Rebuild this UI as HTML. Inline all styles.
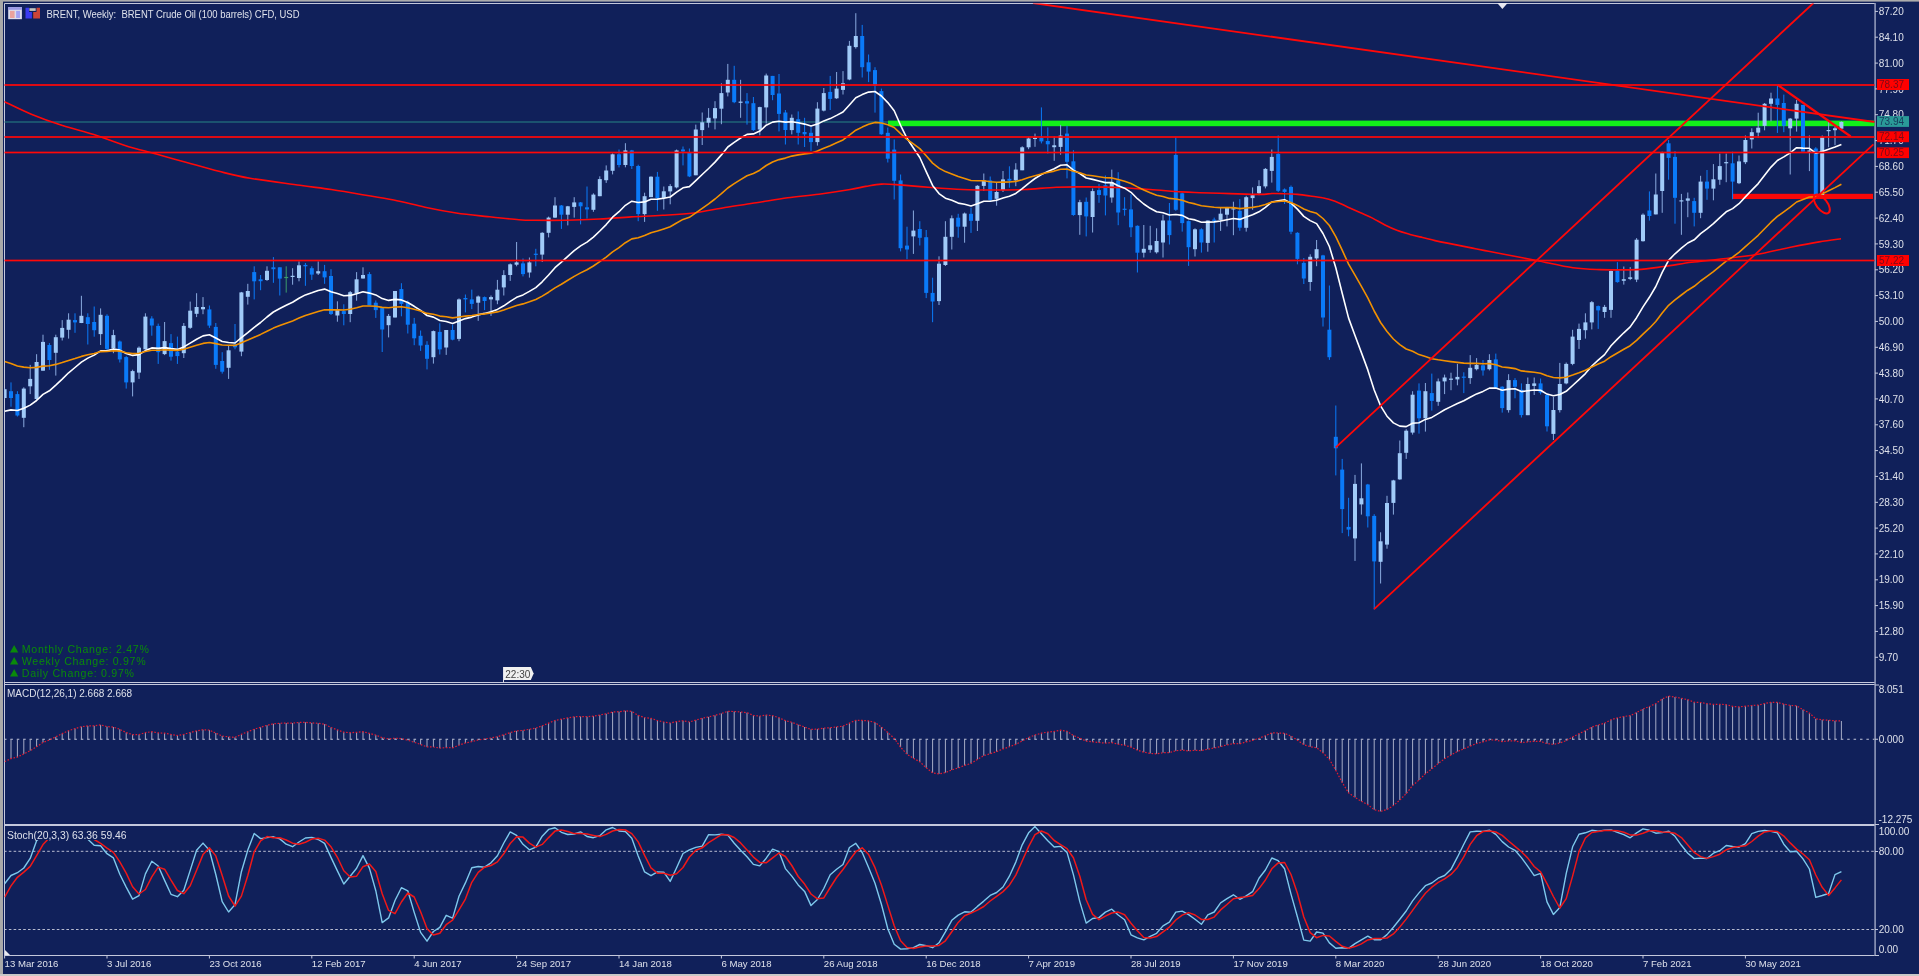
<!DOCTYPE html>
<html><head><meta charset="utf-8"><style>html,body{margin:0;padding:0;background:#10205a;width:1919px;height:976px;overflow:hidden}</style></head>
<body><svg width="1919" height="976" viewBox="0 0 1919 976" style="display:block;will-change:transform">
<rect x="0" y="0" width="1919" height="976" fill="#10205a"/>
<rect x="0" y="0" width="1919" height="1.6" fill="#acacac"/>
<rect x="0" y="0" width="3" height="976" fill="#a8a8a8"/>
<rect x="0" y="974" width="1919" height="2" fill="#c8c8c8"/>
<defs><clipPath id="cm"><rect x="4.5" y="3.5" width="1870" height="678.5"/></clipPath><clipPath id="cd"><rect x="4.5" y="685" width="1870" height="139.5"/></clipPath><clipPath id="cs"><rect x="4.5" y="826" width="1870" height="128.5"/></clipPath></defs>
<g fill="none" stroke="#c4c8dc" stroke-width="1">
<path d="M4.5,955 V3.5 H1875"/>
<path d="M4.5,682.5 H1875 M4.5,684.5 H1875 M4.5,824.5 H1875 M4.5,825.5 H1875 M4.5,955.5 H1875"/>
</g>
<rect x="1874.3" y="3" width="1.6" height="953" fill="#9098b8"/>
<g clip-path="url(#cm)">
<rect x="4" y="121.3" width="1871" height="1.4" fill="#226878"/>
<rect x="888" y="120.6" width="987" height="5.6" fill="#12f01a"/>
<rect x="1733" y="193.8" width="140" height="5.2" fill="#f80808"/>
<rect x="4.1" y="388.2" width="1" height="10.7" fill="#8aaade"/><rect x="2.6" y="389.2" width="4" height="8.8" fill="#a0caf8"/><rect x="10.5" y="382.4" width="1" height="24.3" fill="#0a7af8"/><rect x="9.0" y="391.2" width="4" height="6.8" fill="#0a7af8"/><rect x="16.9" y="391.2" width="1" height="25.3" fill="#0a7af8"/><rect x="15.4" y="394.1" width="4" height="21.4" fill="#0a7af8"/><rect x="23.3" y="387.3" width="1" height="39.9" fill="#8aaade"/><rect x="21.8" y="388.6" width="4" height="29.2" fill="#a0caf8"/><rect x="29.7" y="364.9" width="1" height="29.2" fill="#8aaade"/><rect x="28.2" y="378.9" width="4" height="7.4" fill="#a0caf8"/><rect x="36.1" y="354.2" width="1" height="45.8" fill="#8aaade"/><rect x="34.6" y="362.0" width="4" height="37.0" fill="#a0caf8"/><rect x="42.5" y="334.7" width="1" height="36.0" fill="#8aaade"/><rect x="41.0" y="341.9" width="4" height="28.8" fill="#a0caf8"/><rect x="48.9" y="343.1" width="1" height="26.7" fill="#0a7af8"/><rect x="47.4" y="345.0" width="4" height="15.0" fill="#0a7af8"/><rect x="55.3" y="334.7" width="1" height="40.9" fill="#8aaade"/><rect x="53.8" y="337.2" width="4" height="15.6" fill="#a0caf8"/><rect x="61.7" y="320.1" width="1" height="20.4" fill="#8aaade"/><rect x="60.2" y="327.9" width="4" height="9.7" fill="#a0caf8"/><rect x="68.1" y="313.3" width="1" height="25.3" fill="#8aaade"/><rect x="66.6" y="319.7" width="4" height="10.1" fill="#a0caf8"/><rect x="74.5" y="313.3" width="1" height="19.5" fill="#0a7af8"/><rect x="73.0" y="320.1" width="4" height="2.3" fill="#0a7af8"/><rect x="80.9" y="295.8" width="1" height="27.3" fill="#8aaade"/><rect x="79.4" y="315.8" width="4" height="7.2" fill="#a0caf8"/><rect x="87.3" y="313.3" width="1" height="31.2" fill="#0a7af8"/><rect x="85.8" y="317.2" width="4" height="6.8" fill="#0a7af8"/><rect x="93.7" y="306.5" width="1" height="30.2" fill="#0a7af8"/><rect x="92.2" y="322.0" width="4" height="8.2" fill="#0a7af8"/><rect x="100.1" y="308.4" width="1" height="36.6" fill="#8aaade"/><rect x="98.6" y="314.8" width="4" height="19.3" fill="#a0caf8"/><rect x="106.5" y="314.3" width="1" height="36.0" fill="#0a7af8"/><rect x="105.0" y="315.8" width="4" height="33.1" fill="#0a7af8"/><rect x="112.9" y="329.8" width="1" height="23.4" fill="#8aaade"/><rect x="111.4" y="335.1" width="4" height="13.2" fill="#a0caf8"/><rect x="119.3" y="340.5" width="1" height="22.0" fill="#0a7af8"/><rect x="117.8" y="341.5" width="4" height="17.9" fill="#0a7af8"/><rect x="125.7" y="356.1" width="1" height="32.5" fill="#0a7af8"/><rect x="124.2" y="357.1" width="4" height="25.3" fill="#0a7af8"/><rect x="132.1" y="369.7" width="1" height="26.7" fill="#8aaade"/><rect x="130.6" y="371.1" width="4" height="11.3" fill="#a0caf8"/><rect x="138.5" y="346.4" width="1" height="32.5" fill="#8aaade"/><rect x="137.0" y="347.7" width="4" height="24.9" fill="#a0caf8"/><rect x="144.9" y="313.3" width="1" height="36.0" fill="#8aaade"/><rect x="143.4" y="316.6" width="4" height="32.7" fill="#a0caf8"/><rect x="151.3" y="316.2" width="1" height="19.5" fill="#0a7af8"/><rect x="149.8" y="318.5" width="4" height="7.0" fill="#0a7af8"/><rect x="157.7" y="323.6" width="1" height="40.3" fill="#0a7af8"/><rect x="156.2" y="325.9" width="4" height="26.3" fill="#0a7af8"/><rect x="164.1" y="322.0" width="1" height="33.1" fill="#8aaade"/><rect x="162.6" y="341.1" width="4" height="13.0" fill="#a0caf8"/><rect x="170.5" y="334.1" width="1" height="26.5" fill="#0a7af8"/><rect x="169.0" y="343.1" width="4" height="13.6" fill="#0a7af8"/><rect x="176.9" y="336.6" width="1" height="27.3" fill="#0a7af8"/><rect x="175.4" y="351.6" width="4" height="4.5" fill="#0a7af8"/><rect x="183.3" y="323.0" width="1" height="35.0" fill="#8aaade"/><rect x="181.8" y="325.9" width="4" height="27.3" fill="#a0caf8"/><rect x="189.7" y="301.6" width="1" height="27.3" fill="#8aaade"/><rect x="188.2" y="310.7" width="4" height="17.1" fill="#a0caf8"/><rect x="196.1" y="293.2" width="1" height="23.9" fill="#8aaade"/><rect x="194.6" y="307.0" width="4" height="6.8" fill="#a0caf8"/><rect x="202.5" y="297.1" width="1" height="17.1" fill="#8aaade"/><rect x="201.0" y="307.0" width="4" height="2.3" fill="#a0caf8"/><rect x="208.9" y="305.5" width="1" height="22.4" fill="#0a7af8"/><rect x="207.4" y="309.4" width="4" height="16.2" fill="#0a7af8"/><rect x="215.3" y="323.0" width="1" height="45.8" fill="#0a7af8"/><rect x="213.8" y="326.9" width="4" height="38.0" fill="#0a7af8"/><rect x="221.7" y="352.2" width="1" height="21.4" fill="#0a7af8"/><rect x="220.2" y="361.0" width="4" height="10.7" fill="#0a7af8"/><rect x="228.1" y="345.4" width="1" height="33.5" fill="#8aaade"/><rect x="226.6" y="350.3" width="4" height="17.5" fill="#a0caf8"/><rect x="234.5" y="324.0" width="1" height="25.3" fill="#0a7af8"/><rect x="233.0" y="344.4" width="4" height="2.9" fill="#0a7af8"/><rect x="240.9" y="291.9" width="1" height="64.3" fill="#8aaade"/><rect x="239.4" y="292.4" width="4" height="59.2" fill="#a0caf8"/><rect x="247.3" y="283.8" width="1" height="20.8" fill="#8aaade"/><rect x="245.8" y="291.0" width="4" height="5.8" fill="#a0caf8"/><rect x="253.7" y="266.3" width="1" height="33.1" fill="#0a7af8"/><rect x="252.2" y="272.1" width="4" height="9.2" fill="#0a7af8"/><rect x="260.1" y="275.0" width="1" height="15.2" fill="#0a7af8"/><rect x="258.6" y="279.3" width="4" height="1.9" fill="#0a7af8"/><rect x="266.5" y="266.3" width="1" height="14.6" fill="#8aaade"/><rect x="265.0" y="270.8" width="4" height="9.2" fill="#a0caf8"/><rect x="272.9" y="257.1" width="1" height="25.7" fill="#0a7af8"/><rect x="271.4" y="267.3" width="4" height="1.9" fill="#0a7af8"/><rect x="279.3" y="267.3" width="1" height="28.2" fill="#0a7af8"/><rect x="277.8" y="267.3" width="4" height="11.3" fill="#0a7af8"/><rect x="285.7" y="266.3" width="1" height="26.3" fill="#3c9c6c"/><rect x="284.2" y="276.9" width="4" height="1.2" fill="#3c9c6c"/><rect x="292.1" y="268.2" width="1" height="16.5" fill="#8aaade"/><rect x="290.6" y="275.8" width="4" height="1.2" fill="#a0caf8"/><rect x="298.5" y="261.4" width="1" height="19.9" fill="#8aaade"/><rect x="297.0" y="265.3" width="4" height="12.7" fill="#a0caf8"/><rect x="304.9" y="263.0" width="1" height="22.8" fill="#0a7af8"/><rect x="303.4" y="264.9" width="4" height="1.4" fill="#0a7af8"/><rect x="311.3" y="266.3" width="1" height="13.6" fill="#0a7af8"/><rect x="309.8" y="268.2" width="4" height="6.4" fill="#0a7af8"/><rect x="317.7" y="261.4" width="1" height="13.6" fill="#8aaade"/><rect x="316.2" y="271.2" width="4" height="2.3" fill="#a0caf8"/><rect x="324.1" y="264.9" width="1" height="18.9" fill="#0a7af8"/><rect x="322.6" y="271.2" width="4" height="6.2" fill="#0a7af8"/><rect x="330.5" y="269.2" width="1" height="45.8" fill="#0a7af8"/><rect x="329.0" y="276.0" width="4" height="38.0" fill="#0a7af8"/><rect x="336.9" y="301.3" width="1" height="20.4" fill="#8aaade"/><rect x="335.4" y="309.1" width="4" height="6.4" fill="#a0caf8"/><rect x="343.3" y="304.3" width="1" height="21.0" fill="#0a7af8"/><rect x="341.8" y="311.1" width="4" height="2.9" fill="#0a7af8"/><rect x="349.7" y="291.0" width="1" height="31.2" fill="#8aaade"/><rect x="348.2" y="292.2" width="4" height="21.8" fill="#a0caf8"/><rect x="356.1" y="272.1" width="1" height="28.6" fill="#8aaade"/><rect x="354.6" y="279.3" width="4" height="14.2" fill="#a0caf8"/><rect x="362.5" y="267.3" width="1" height="11.3" fill="#8aaade"/><rect x="361.0" y="275.0" width="4" height="3.5" fill="#a0caf8"/><rect x="368.9" y="272.1" width="1" height="33.1" fill="#0a7af8"/><rect x="367.4" y="274.1" width="4" height="31.2" fill="#0a7af8"/><rect x="375.3" y="300.4" width="1" height="17.5" fill="#0a7af8"/><rect x="373.8" y="302.7" width="4" height="7.4" fill="#0a7af8"/><rect x="381.7" y="307.2" width="1" height="44.8" fill="#0a7af8"/><rect x="380.2" y="308.1" width="4" height="21.4" fill="#0a7af8"/><rect x="388.1" y="314.0" width="1" height="23.4" fill="#8aaade"/><rect x="386.6" y="315.9" width="4" height="9.3" fill="#a0caf8"/><rect x="394.5" y="291.0" width="1" height="26.5" fill="#8aaade"/><rect x="393.0" y="291.0" width="4" height="26.5" fill="#a0caf8"/><rect x="400.9" y="283.2" width="1" height="33.1" fill="#0a7af8"/><rect x="399.4" y="289.1" width="4" height="14.8" fill="#0a7af8"/><rect x="407.3" y="300.4" width="1" height="33.1" fill="#0a7af8"/><rect x="405.8" y="302.7" width="4" height="22.0" fill="#0a7af8"/><rect x="413.7" y="317.9" width="1" height="27.3" fill="#0a7af8"/><rect x="412.2" y="323.7" width="4" height="14.6" fill="#0a7af8"/><rect x="420.1" y="330.5" width="1" height="20.4" fill="#0a7af8"/><rect x="418.6" y="335.8" width="4" height="9.7" fill="#0a7af8"/><rect x="426.5" y="341.2" width="1" height="28.2" fill="#0a7af8"/><rect x="425.0" y="344.8" width="4" height="14.0" fill="#0a7af8"/><rect x="432.9" y="330.5" width="1" height="33.1" fill="#8aaade"/><rect x="431.4" y="331.1" width="4" height="26.1" fill="#a0caf8"/><rect x="439.3" y="323.3" width="1" height="31.2" fill="#0a7af8"/><rect x="437.8" y="331.9" width="4" height="17.5" fill="#0a7af8"/><rect x="445.7" y="330.0" width="1" height="24.9" fill="#8aaade"/><rect x="444.2" y="330.0" width="4" height="17.5" fill="#a0caf8"/><rect x="452.1" y="324.7" width="1" height="15.6" fill="#0a7af8"/><rect x="450.6" y="330.0" width="4" height="9.7" fill="#0a7af8"/><rect x="458.5" y="298.4" width="1" height="42.8" fill="#8aaade"/><rect x="457.0" y="299.4" width="4" height="39.5" fill="#a0caf8"/><rect x="464.9" y="294.5" width="1" height="17.9" fill="#0a7af8"/><rect x="463.4" y="298.0" width="4" height="1.4" fill="#0a7af8"/><rect x="471.3" y="289.6" width="1" height="19.5" fill="#0a7af8"/><rect x="469.8" y="299.4" width="4" height="4.5" fill="#0a7af8"/><rect x="477.7" y="295.5" width="1" height="25.3" fill="#8aaade"/><rect x="476.2" y="296.5" width="4" height="6.2" fill="#a0caf8"/><rect x="484.1" y="296.5" width="1" height="13.6" fill="#0a7af8"/><rect x="482.6" y="297.1" width="4" height="3.9" fill="#0a7af8"/><rect x="490.5" y="295.5" width="1" height="20.4" fill="#8aaade"/><rect x="489.0" y="297.1" width="4" height="2.3" fill="#a0caf8"/><rect x="496.9" y="279.9" width="1" height="24.3" fill="#8aaade"/><rect x="495.4" y="289.7" width="4" height="10.7" fill="#a0caf8"/><rect x="503.3" y="270.2" width="1" height="25.3" fill="#8aaade"/><rect x="501.8" y="275.1" width="4" height="12.3" fill="#a0caf8"/><rect x="509.7" y="263.4" width="1" height="17.5" fill="#8aaade"/><rect x="508.2" y="264.3" width="4" height="10.7" fill="#a0caf8"/><rect x="516.1" y="242.0" width="1" height="24.3" fill="#8aaade"/><rect x="514.6" y="262.4" width="4" height="2.3" fill="#a0caf8"/><rect x="522.5" y="258.5" width="1" height="17.9" fill="#0a7af8"/><rect x="521.0" y="263.4" width="4" height="10.7" fill="#0a7af8"/><rect x="528.9" y="257.5" width="1" height="20.1" fill="#8aaade"/><rect x="527.4" y="262.4" width="4" height="10.1" fill="#a0caf8"/><rect x="535.3" y="248.8" width="1" height="17.5" fill="#0a7af8"/><rect x="533.8" y="253.7" width="4" height="1.2" fill="#0a7af8"/><rect x="541.7" y="232.2" width="1" height="29.8" fill="#8aaade"/><rect x="540.2" y="232.8" width="4" height="21.8" fill="#a0caf8"/><rect x="548.1" y="216.6" width="1" height="20.8" fill="#8aaade"/><rect x="546.6" y="217.6" width="4" height="15.2" fill="#a0caf8"/><rect x="554.5" y="197.2" width="1" height="20.8" fill="#8aaade"/><rect x="553.0" y="205.5" width="4" height="12.1" fill="#a0caf8"/><rect x="560.9" y="205.0" width="1" height="23.9" fill="#0a7af8"/><rect x="559.4" y="205.5" width="4" height="9.2" fill="#0a7af8"/><rect x="567.3" y="205.9" width="1" height="19.5" fill="#8aaade"/><rect x="565.8" y="206.3" width="4" height="8.4" fill="#a0caf8"/><rect x="573.7" y="197.2" width="1" height="20.4" fill="#8aaade"/><rect x="572.2" y="202.4" width="4" height="4.5" fill="#a0caf8"/><rect x="580.1" y="202.0" width="1" height="22.4" fill="#0a7af8"/><rect x="578.6" y="202.4" width="4" height="3.9" fill="#0a7af8"/><rect x="586.5" y="186.5" width="1" height="32.1" fill="#0a7af8"/><rect x="585.0" y="207.3" width="4" height="2.1" fill="#0a7af8"/><rect x="592.9" y="193.3" width="1" height="18.5" fill="#8aaade"/><rect x="591.4" y="194.6" width="4" height="15.2" fill="#a0caf8"/><rect x="599.3" y="176.3" width="1" height="19.9" fill="#8aaade"/><rect x="597.8" y="179.1" width="4" height="17.1" fill="#a0caf8"/><rect x="605.7" y="165.4" width="1" height="17.5" fill="#8aaade"/><rect x="604.2" y="170.5" width="4" height="9.7" fill="#a0caf8"/><rect x="612.1" y="153.4" width="1" height="21.0" fill="#8aaade"/><rect x="610.6" y="154.3" width="4" height="16.5" fill="#a0caf8"/><rect x="618.5" y="149.5" width="1" height="17.9" fill="#0a7af8"/><rect x="617.0" y="154.3" width="4" height="10.7" fill="#0a7af8"/><rect x="624.9" y="143.2" width="1" height="24.1" fill="#8aaade"/><rect x="623.4" y="150.4" width="4" height="14.6" fill="#a0caf8"/><rect x="631.3" y="149.9" width="1" height="19.1" fill="#0a7af8"/><rect x="629.8" y="150.4" width="4" height="15.6" fill="#0a7af8"/><rect x="637.7" y="164.7" width="1" height="56.5" fill="#0a7af8"/><rect x="636.2" y="166.0" width="4" height="48.1" fill="#0a7af8"/><rect x="644.1" y="192.7" width="1" height="29.2" fill="#8aaade"/><rect x="642.6" y="196.2" width="4" height="17.9" fill="#a0caf8"/><rect x="650.5" y="176.3" width="1" height="20.8" fill="#8aaade"/><rect x="649.0" y="176.7" width="4" height="20.4" fill="#a0caf8"/><rect x="656.9" y="171.9" width="1" height="38.9" fill="#0a7af8"/><rect x="655.4" y="176.7" width="4" height="21.4" fill="#0a7af8"/><rect x="663.3" y="186.5" width="1" height="23.0" fill="#8aaade"/><rect x="661.8" y="191.3" width="4" height="6.8" fill="#a0caf8"/><rect x="669.7" y="184.1" width="1" height="20.2" fill="#8aaade"/><rect x="668.2" y="186.1" width="4" height="5.3" fill="#a0caf8"/><rect x="676.1" y="149.5" width="1" height="38.9" fill="#8aaade"/><rect x="674.6" y="150.4" width="4" height="37.0" fill="#a0caf8"/><rect x="682.5" y="146.5" width="1" height="18.9" fill="#0a7af8"/><rect x="681.0" y="149.5" width="4" height="1.9" fill="#0a7af8"/><rect x="688.9" y="148.5" width="1" height="28.6" fill="#0a7af8"/><rect x="687.4" y="153.0" width="4" height="23.4" fill="#0a7af8"/><rect x="695.3" y="124.6" width="1" height="50.6" fill="#8aaade"/><rect x="693.8" y="129.5" width="4" height="45.8" fill="#a0caf8"/><rect x="701.7" y="112.5" width="1" height="32.5" fill="#8aaade"/><rect x="700.2" y="122.3" width="4" height="7.8" fill="#a0caf8"/><rect x="708.1" y="108.1" width="1" height="19.5" fill="#8aaade"/><rect x="706.6" y="117.8" width="4" height="4.9" fill="#a0caf8"/><rect x="714.5" y="101.2" width="1" height="28.2" fill="#8aaade"/><rect x="713.0" y="108.1" width="4" height="10.3" fill="#a0caf8"/><rect x="720.9" y="83.3" width="1" height="40.9" fill="#8aaade"/><rect x="719.4" y="93.1" width="4" height="15.6" fill="#a0caf8"/><rect x="727.3" y="63.9" width="1" height="32.5" fill="#8aaade"/><rect x="725.8" y="79.8" width="4" height="12.7" fill="#a0caf8"/><rect x="733.7" y="65.8" width="1" height="37.4" fill="#0a7af8"/><rect x="732.2" y="79.8" width="4" height="22.4" fill="#0a7af8"/><rect x="740.1" y="79.8" width="1" height="38.0" fill="#8aaade"/><rect x="738.6" y="101.6" width="4" height="1.2" fill="#a0caf8"/><rect x="746.5" y="93.1" width="1" height="31.5" fill="#0a7af8"/><rect x="745.0" y="101.2" width="4" height="2.3" fill="#0a7af8"/><rect x="752.9" y="97.0" width="1" height="33.9" fill="#0a7af8"/><rect x="751.4" y="103.2" width="4" height="26.9" fill="#0a7af8"/><rect x="759.3" y="106.7" width="1" height="28.6" fill="#8aaade"/><rect x="757.8" y="107.1" width="4" height="22.4" fill="#a0caf8"/><rect x="765.7" y="73.6" width="1" height="50.0" fill="#8aaade"/><rect x="764.2" y="75.5" width="4" height="31.9" fill="#a0caf8"/><rect x="772.1" y="75.9" width="1" height="24.3" fill="#0a7af8"/><rect x="770.6" y="75.9" width="4" height="19.1" fill="#0a7af8"/><rect x="778.5" y="74.0" width="1" height="57.4" fill="#0a7af8"/><rect x="777.0" y="93.5" width="4" height="20.4" fill="#0a7af8"/><rect x="784.9" y="110.0" width="1" height="34.5" fill="#0a7af8"/><rect x="783.4" y="112.5" width="4" height="17.5" fill="#0a7af8"/><rect x="791.3" y="114.5" width="1" height="19.9" fill="#8aaade"/><rect x="789.8" y="117.8" width="4" height="12.3" fill="#a0caf8"/><rect x="797.7" y="111.4" width="1" height="33.1" fill="#0a7af8"/><rect x="796.2" y="119.2" width="4" height="13.6" fill="#0a7af8"/><rect x="804.1" y="117.8" width="1" height="29.2" fill="#0a7af8"/><rect x="802.6" y="132.0" width="4" height="2.3" fill="#0a7af8"/><rect x="810.5" y="126.6" width="1" height="24.3" fill="#0a7af8"/><rect x="809.0" y="132.8" width="4" height="9.3" fill="#0a7af8"/><rect x="816.9" y="102.2" width="1" height="43.4" fill="#8aaade"/><rect x="815.4" y="108.6" width="4" height="33.5" fill="#a0caf8"/><rect x="823.3" y="88.0" width="1" height="23.4" fill="#8aaade"/><rect x="821.8" y="93.1" width="4" height="17.5" fill="#a0caf8"/><rect x="829.7" y="75.9" width="1" height="34.1" fill="#0a7af8"/><rect x="828.2" y="91.9" width="4" height="7.0" fill="#0a7af8"/><rect x="836.1" y="72.0" width="1" height="26.9" fill="#8aaade"/><rect x="834.6" y="88.6" width="4" height="9.7" fill="#a0caf8"/><rect x="842.5" y="71.1" width="1" height="23.4" fill="#8aaade"/><rect x="841.0" y="83.3" width="4" height="6.6" fill="#a0caf8"/><rect x="848.9" y="40.9" width="1" height="39.3" fill="#8aaade"/><rect x="847.4" y="45.8" width="4" height="33.7" fill="#a0caf8"/><rect x="855.3" y="13.2" width="1" height="35.4" fill="#8aaade"/><rect x="853.8" y="36.0" width="4" height="11.1" fill="#a0caf8"/><rect x="861.7" y="24.9" width="1" height="52.6" fill="#0a7af8"/><rect x="860.2" y="36.0" width="4" height="31.2" fill="#0a7af8"/><rect x="868.1" y="54.5" width="1" height="27.6" fill="#0a7af8"/><rect x="866.6" y="62.3" width="4" height="9.3" fill="#0a7af8"/><rect x="874.5" y="67.2" width="1" height="45.4" fill="#0a7af8"/><rect x="873.0" y="70.1" width="4" height="15.6" fill="#0a7af8"/><rect x="880.9" y="88.6" width="1" height="46.1" fill="#0a7af8"/><rect x="879.4" y="91.1" width="4" height="43.2" fill="#0a7af8"/><rect x="887.3" y="127.5" width="1" height="35.0" fill="#0a7af8"/><rect x="885.8" y="132.8" width="4" height="25.9" fill="#0a7af8"/><rect x="893.7" y="139.5" width="1" height="60.0" fill="#0a7af8"/><rect x="892.2" y="149.6" width="4" height="31.2" fill="#0a7af8"/><rect x="900.1" y="174.5" width="1" height="76.9" fill="#0a7af8"/><rect x="898.6" y="180.4" width="4" height="67.8" fill="#0a7af8"/><rect x="906.5" y="226.7" width="1" height="32.5" fill="#0a7af8"/><rect x="905.0" y="245.6" width="4" height="3.9" fill="#0a7af8"/><rect x="912.9" y="210.5" width="1" height="43.4" fill="#8aaade"/><rect x="911.4" y="230.6" width="4" height="5.8" fill="#a0caf8"/><rect x="919.3" y="221.2" width="1" height="24.3" fill="#0a7af8"/><rect x="917.8" y="229.0" width="4" height="8.8" fill="#0a7af8"/><rect x="925.7" y="230.0" width="1" height="68.1" fill="#0a7af8"/><rect x="924.2" y="237.2" width="4" height="55.7" fill="#0a7af8"/><rect x="932.1" y="277.7" width="1" height="44.5" fill="#0a7af8"/><rect x="930.6" y="292.9" width="4" height="8.6" fill="#0a7af8"/><rect x="938.5" y="256.3" width="1" height="48.7" fill="#8aaade"/><rect x="937.0" y="263.7" width="4" height="37.4" fill="#a0caf8"/><rect x="944.9" y="221.2" width="1" height="44.8" fill="#8aaade"/><rect x="943.4" y="236.8" width="4" height="28.2" fill="#a0caf8"/><rect x="951.3" y="215.4" width="1" height="34.1" fill="#8aaade"/><rect x="949.8" y="218.3" width="4" height="18.5" fill="#a0caf8"/><rect x="957.7" y="213.8" width="1" height="23.9" fill="#0a7af8"/><rect x="956.2" y="217.7" width="4" height="9.0" fill="#0a7af8"/><rect x="964.1" y="212.5" width="1" height="30.2" fill="#8aaade"/><rect x="962.6" y="213.5" width="4" height="13.2" fill="#a0caf8"/><rect x="970.5" y="207.6" width="1" height="25.3" fill="#0a7af8"/><rect x="969.0" y="213.8" width="4" height="7.0" fill="#0a7af8"/><rect x="976.9" y="185.2" width="1" height="45.8" fill="#8aaade"/><rect x="975.4" y="185.8" width="4" height="35.0" fill="#a0caf8"/><rect x="983.3" y="173.5" width="1" height="17.5" fill="#8aaade"/><rect x="981.8" y="180.4" width="4" height="5.5" fill="#a0caf8"/><rect x="989.7" y="176.5" width="1" height="25.3" fill="#0a7af8"/><rect x="988.2" y="180.4" width="4" height="19.5" fill="#0a7af8"/><rect x="996.1" y="182.3" width="1" height="23.4" fill="#8aaade"/><rect x="994.6" y="192.0" width="4" height="6.8" fill="#a0caf8"/><rect x="1002.5" y="171.0" width="1" height="21.0" fill="#8aaade"/><rect x="1001.0" y="179.4" width="4" height="10.7" fill="#a0caf8"/><rect x="1008.9" y="166.3" width="1" height="21.4" fill="#0a7af8"/><rect x="1007.4" y="178.8" width="4" height="1.9" fill="#0a7af8"/><rect x="1015.3" y="163.2" width="1" height="23.0" fill="#8aaade"/><rect x="1013.8" y="169.6" width="4" height="10.7" fill="#a0caf8"/><rect x="1021.7" y="146.3" width="1" height="23.9" fill="#8aaade"/><rect x="1020.2" y="147.3" width="4" height="23.0" fill="#a0caf8"/><rect x="1028.1" y="137.1" width="1" height="12.1" fill="#8aaade"/><rect x="1026.6" y="138.5" width="4" height="8.8" fill="#a0caf8"/><rect x="1034.5" y="133.6" width="1" height="13.2" fill="#8aaade"/><rect x="1033.0" y="137.8" width="4" height="1.2" fill="#a0caf8"/><rect x="1040.9" y="107.4" width="1" height="36.0" fill="#0a7af8"/><rect x="1039.4" y="137.9" width="4" height="3.5" fill="#0a7af8"/><rect x="1047.3" y="127.4" width="1" height="26.1" fill="#0a7af8"/><rect x="1045.8" y="141.0" width="4" height="3.3" fill="#0a7af8"/><rect x="1053.7" y="136.5" width="1" height="24.3" fill="#8aaade"/><rect x="1052.2" y="145.3" width="4" height="1.9" fill="#a0caf8"/><rect x="1060.1" y="124.9" width="1" height="29.8" fill="#8aaade"/><rect x="1058.6" y="135.6" width="4" height="11.3" fill="#a0caf8"/><rect x="1066.5" y="125.8" width="1" height="52.6" fill="#0a7af8"/><rect x="1065.0" y="133.6" width="4" height="28.2" fill="#0a7af8"/><rect x="1072.9" y="150.2" width="1" height="65.6" fill="#0a7af8"/><rect x="1071.4" y="161.3" width="4" height="53.7" fill="#0a7af8"/><rect x="1079.3" y="199.8" width="1" height="35.0" fill="#8aaade"/><rect x="1077.8" y="202.2" width="4" height="12.9" fill="#a0caf8"/><rect x="1085.7" y="197.5" width="1" height="38.9" fill="#0a7af8"/><rect x="1084.2" y="201.8" width="4" height="14.6" fill="#0a7af8"/><rect x="1092.1" y="188.5" width="1" height="44.0" fill="#8aaade"/><rect x="1090.6" y="191.1" width="4" height="25.9" fill="#a0caf8"/><rect x="1098.5" y="183.9" width="1" height="18.9" fill="#0a7af8"/><rect x="1097.0" y="190.1" width="4" height="4.9" fill="#0a7af8"/><rect x="1104.9" y="175.5" width="1" height="39.9" fill="#0a7af8"/><rect x="1103.4" y="185.2" width="4" height="10.3" fill="#0a7af8"/><rect x="1111.3" y="169.6" width="1" height="33.1" fill="#8aaade"/><rect x="1109.8" y="182.3" width="4" height="15.2" fill="#a0caf8"/><rect x="1117.7" y="172.2" width="1" height="53.0" fill="#0a7af8"/><rect x="1116.2" y="180.4" width="4" height="32.1" fill="#0a7af8"/><rect x="1124.1" y="197.2" width="1" height="18.5" fill="#0a7af8"/><rect x="1122.6" y="208.7" width="4" height="1.2" fill="#0a7af8"/><rect x="1130.5" y="194.3" width="1" height="42.8" fill="#0a7af8"/><rect x="1129.0" y="209.4" width="4" height="17.9" fill="#0a7af8"/><rect x="1136.9" y="225.4" width="1" height="47.1" fill="#0a7af8"/><rect x="1135.4" y="225.8" width="4" height="26.9" fill="#0a7af8"/><rect x="1143.3" y="225.0" width="1" height="32.5" fill="#8aaade"/><rect x="1141.8" y="248.8" width="4" height="3.9" fill="#a0caf8"/><rect x="1149.7" y="225.8" width="1" height="26.9" fill="#8aaade"/><rect x="1148.2" y="245.3" width="4" height="4.5" fill="#a0caf8"/><rect x="1156.1" y="228.3" width="1" height="25.3" fill="#8aaade"/><rect x="1154.6" y="241.0" width="4" height="11.3" fill="#a0caf8"/><rect x="1162.5" y="214.7" width="1" height="42.8" fill="#8aaade"/><rect x="1161.0" y="220.5" width="4" height="22.0" fill="#a0caf8"/><rect x="1168.9" y="203.0" width="1" height="41.5" fill="#0a7af8"/><rect x="1167.4" y="220.5" width="4" height="14.6" fill="#0a7af8"/><rect x="1175.3" y="137.4" width="1" height="73.4" fill="#0a7af8"/><rect x="1173.8" y="154.9" width="4" height="54.9" fill="#0a7af8"/><rect x="1181.7" y="192.7" width="1" height="38.9" fill="#0a7af8"/><rect x="1180.2" y="193.3" width="4" height="29.8" fill="#0a7af8"/><rect x="1188.1" y="220.5" width="1" height="45.4" fill="#0a7af8"/><rect x="1186.6" y="221.1" width="4" height="26.1" fill="#0a7af8"/><rect x="1194.5" y="228.3" width="1" height="28.2" fill="#8aaade"/><rect x="1193.0" y="229.3" width="4" height="19.9" fill="#a0caf8"/><rect x="1200.9" y="228.3" width="1" height="24.3" fill="#0a7af8"/><rect x="1199.4" y="229.3" width="4" height="13.2" fill="#0a7af8"/><rect x="1207.3" y="220.5" width="1" height="31.2" fill="#8aaade"/><rect x="1205.8" y="220.5" width="4" height="22.4" fill="#a0caf8"/><rect x="1213.7" y="217.6" width="1" height="24.9" fill="#0a7af8"/><rect x="1212.2" y="219.6" width="4" height="1.2" fill="#0a7af8"/><rect x="1220.1" y="207.9" width="1" height="23.0" fill="#8aaade"/><rect x="1218.6" y="213.7" width="4" height="6.2" fill="#a0caf8"/><rect x="1226.5" y="206.9" width="1" height="19.5" fill="#8aaade"/><rect x="1225.0" y="207.9" width="4" height="6.8" fill="#a0caf8"/><rect x="1232.9" y="201.7" width="1" height="33.5" fill="#8aaade"/><rect x="1231.4" y="208.3" width="4" height="1.2" fill="#a0caf8"/><rect x="1239.3" y="199.1" width="1" height="31.7" fill="#0a7af8"/><rect x="1237.8" y="210.8" width="4" height="16.9" fill="#0a7af8"/><rect x="1245.7" y="195.8" width="1" height="35.8" fill="#8aaade"/><rect x="1244.2" y="197.2" width="4" height="30.6" fill="#a0caf8"/><rect x="1252.1" y="187.4" width="1" height="22.4" fill="#8aaade"/><rect x="1250.6" y="195.2" width="4" height="2.9" fill="#a0caf8"/><rect x="1258.5" y="180.2" width="1" height="15.0" fill="#8aaade"/><rect x="1257.0" y="186.1" width="4" height="7.2" fill="#a0caf8"/><rect x="1264.9" y="168.0" width="1" height="20.4" fill="#8aaade"/><rect x="1263.4" y="168.9" width="4" height="17.5" fill="#a0caf8"/><rect x="1271.3" y="149.5" width="1" height="33.1" fill="#8aaade"/><rect x="1269.8" y="156.9" width="4" height="14.0" fill="#a0caf8"/><rect x="1277.7" y="135.5" width="1" height="56.5" fill="#0a7af8"/><rect x="1276.2" y="153.8" width="4" height="37.0" fill="#0a7af8"/><rect x="1284.1" y="188.4" width="1" height="15.6" fill="#0a7af8"/><rect x="1282.6" y="189.4" width="4" height="2.5" fill="#0a7af8"/><rect x="1290.5" y="185.5" width="1" height="48.7" fill="#0a7af8"/><rect x="1289.0" y="186.9" width="4" height="44.8" fill="#0a7af8"/><rect x="1296.9" y="232.2" width="1" height="32.1" fill="#0a7af8"/><rect x="1295.4" y="232.8" width="4" height="26.1" fill="#0a7af8"/><rect x="1303.3" y="258.0" width="1" height="26.0" fill="#0a7af8"/><rect x="1301.8" y="262.9" width="4" height="15.6" fill="#0a7af8"/><rect x="1309.7" y="254.3" width="1" height="36.5" fill="#8aaade"/><rect x="1308.2" y="256.8" width="4" height="25.2" fill="#a0caf8"/><rect x="1316.1" y="240.0" width="1" height="26.2" fill="#8aaade"/><rect x="1314.6" y="249.2" width="4" height="9.2" fill="#a0caf8"/><rect x="1322.5" y="254.8" width="1" height="71.7" fill="#0a7af8"/><rect x="1321.0" y="255.4" width="4" height="62.1" fill="#0a7af8"/><rect x="1328.9" y="285.5" width="1" height="74.4" fill="#0a7af8"/><rect x="1327.4" y="329.7" width="4" height="27.5" fill="#0a7af8"/><rect x="1335.3" y="405.5" width="1" height="69.9" fill="#0a7af8"/><rect x="1333.8" y="436.8" width="4" height="11.5" fill="#0a7af8"/><rect x="1341.7" y="458.9" width="1" height="74.2" fill="#0a7af8"/><rect x="1340.2" y="469.6" width="4" height="39.5" fill="#0a7af8"/><rect x="1348.1" y="497.8" width="1" height="38.5" fill="#0a7af8"/><rect x="1346.6" y="526.9" width="4" height="2.7" fill="#0a7af8"/><rect x="1354.5" y="474.9" width="1" height="86.0" fill="#8aaade"/><rect x="1353.0" y="483.9" width="4" height="54.5" fill="#a0caf8"/><rect x="1360.9" y="463.4" width="1" height="51.2" fill="#8aaade"/><rect x="1359.4" y="498.3" width="4" height="6.1" fill="#a0caf8"/><rect x="1367.3" y="483.9" width="1" height="43.6" fill="#0a7af8"/><rect x="1365.8" y="484.5" width="4" height="31.8" fill="#0a7af8"/><rect x="1373.7" y="514.2" width="1" height="95.3" fill="#0a7af8"/><rect x="1372.2" y="515.9" width="4" height="45.5" fill="#0a7af8"/><rect x="1380.1" y="532.3" width="1" height="51.2" fill="#8aaade"/><rect x="1378.6" y="541.3" width="4" height="20.5" fill="#a0caf8"/><rect x="1386.5" y="495.8" width="1" height="52.9" fill="#8aaade"/><rect x="1385.0" y="503.0" width="4" height="41.6" fill="#a0caf8"/><rect x="1392.9" y="479.8" width="1" height="34.8" fill="#8aaade"/><rect x="1391.4" y="480.4" width="4" height="22.5" fill="#a0caf8"/><rect x="1399.3" y="440.5" width="1" height="39.3" fill="#8aaade"/><rect x="1397.8" y="453.2" width="4" height="26.2" fill="#a0caf8"/><rect x="1405.7" y="429.2" width="1" height="29.7" fill="#8aaade"/><rect x="1404.2" y="430.7" width="4" height="22.1" fill="#a0caf8"/><rect x="1412.1" y="391.2" width="1" height="43.4" fill="#8aaade"/><rect x="1410.6" y="394.7" width="4" height="37.9" fill="#a0caf8"/><rect x="1418.5" y="383.4" width="1" height="50.2" fill="#0a7af8"/><rect x="1417.0" y="390.6" width="4" height="27.7" fill="#0a7af8"/><rect x="1424.9" y="383.0" width="1" height="48.6" fill="#8aaade"/><rect x="1423.4" y="391.2" width="4" height="27.0" fill="#a0caf8"/><rect x="1431.3" y="373.6" width="1" height="37.0" fill="#0a7af8"/><rect x="1429.8" y="393.1" width="4" height="7.8" fill="#0a7af8"/><rect x="1437.7" y="378.5" width="1" height="27.3" fill="#8aaade"/><rect x="1436.2" y="381.4" width="4" height="20.4" fill="#a0caf8"/><rect x="1444.1" y="374.6" width="1" height="19.5" fill="#8aaade"/><rect x="1442.6" y="377.5" width="4" height="3.9" fill="#a0caf8"/><rect x="1450.5" y="372.7" width="1" height="17.5" fill="#8aaade"/><rect x="1449.0" y="378.6" width="4" height="1.2" fill="#a0caf8"/><rect x="1456.9" y="363.9" width="1" height="21.4" fill="#8aaade"/><rect x="1455.4" y="376.9" width="4" height="2.5" fill="#a0caf8"/><rect x="1463.3" y="372.3" width="1" height="20.8" fill="#0a7af8"/><rect x="1461.8" y="376.6" width="4" height="1.2" fill="#0a7af8"/><rect x="1469.7" y="355.1" width="1" height="28.8" fill="#8aaade"/><rect x="1468.2" y="367.8" width="4" height="10.3" fill="#a0caf8"/><rect x="1476.1" y="358.1" width="1" height="12.3" fill="#8aaade"/><rect x="1474.6" y="364.9" width="4" height="4.3" fill="#a0caf8"/><rect x="1482.5" y="360.0" width="1" height="15.6" fill="#0a7af8"/><rect x="1481.0" y="365.3" width="4" height="5.1" fill="#0a7af8"/><rect x="1488.9" y="354.2" width="1" height="16.2" fill="#8aaade"/><rect x="1487.4" y="360.0" width="4" height="9.2" fill="#a0caf8"/><rect x="1495.3" y="353.6" width="1" height="35.0" fill="#0a7af8"/><rect x="1493.8" y="359.4" width="4" height="28.4" fill="#0a7af8"/><rect x="1501.7" y="386.3" width="1" height="26.3" fill="#0a7af8"/><rect x="1500.2" y="386.7" width="4" height="21.4" fill="#0a7af8"/><rect x="1508.1" y="374.2" width="1" height="38.4" fill="#8aaade"/><rect x="1506.6" y="380.1" width="4" height="30.0" fill="#a0caf8"/><rect x="1514.5" y="378.1" width="1" height="20.2" fill="#0a7af8"/><rect x="1513.0" y="380.1" width="4" height="6.6" fill="#0a7af8"/><rect x="1520.9" y="383.4" width="1" height="34.1" fill="#0a7af8"/><rect x="1519.4" y="389.8" width="4" height="25.3" fill="#0a7af8"/><rect x="1527.3" y="377.5" width="1" height="37.6" fill="#8aaade"/><rect x="1525.8" y="384.0" width="4" height="31.2" fill="#a0caf8"/><rect x="1533.7" y="377.5" width="1" height="17.5" fill="#8aaade"/><rect x="1532.2" y="383.4" width="4" height="2.5" fill="#a0caf8"/><rect x="1540.1" y="378.5" width="1" height="16.0" fill="#0a7af8"/><rect x="1538.6" y="383.4" width="4" height="9.2" fill="#0a7af8"/><rect x="1546.5" y="394.1" width="1" height="37.4" fill="#0a7af8"/><rect x="1545.0" y="395.1" width="4" height="31.2" fill="#0a7af8"/><rect x="1552.9" y="397.0" width="1" height="43.0" fill="#8aaade"/><rect x="1551.4" y="410.0" width="4" height="23.9" fill="#a0caf8"/><rect x="1559.3" y="362.9" width="1" height="49.6" fill="#8aaade"/><rect x="1557.8" y="384.0" width="4" height="26.1" fill="#a0caf8"/><rect x="1565.7" y="362.5" width="1" height="21.8" fill="#8aaade"/><rect x="1564.2" y="363.9" width="4" height="19.5" fill="#a0caf8"/><rect x="1572.1" y="329.8" width="1" height="35.4" fill="#8aaade"/><rect x="1570.6" y="336.6" width="4" height="27.3" fill="#a0caf8"/><rect x="1578.5" y="323.6" width="1" height="25.3" fill="#8aaade"/><rect x="1577.0" y="328.9" width="4" height="11.1" fill="#a0caf8"/><rect x="1584.9" y="313.3" width="1" height="25.3" fill="#8aaade"/><rect x="1583.4" y="322.4" width="4" height="7.8" fill="#a0caf8"/><rect x="1591.3" y="301.0" width="1" height="28.4" fill="#8aaade"/><rect x="1589.8" y="302.2" width="4" height="20.2" fill="#a0caf8"/><rect x="1597.7" y="305.5" width="1" height="23.4" fill="#0a7af8"/><rect x="1596.2" y="306.1" width="4" height="4.3" fill="#0a7af8"/><rect x="1604.1" y="304.9" width="1" height="12.9" fill="#8aaade"/><rect x="1602.6" y="306.9" width="4" height="5.1" fill="#a0caf8"/><rect x="1610.5" y="269.5" width="1" height="48.3" fill="#8aaade"/><rect x="1609.0" y="271.0" width="4" height="38.9" fill="#a0caf8"/><rect x="1616.9" y="262.1" width="1" height="20.6" fill="#0a7af8"/><rect x="1615.4" y="270.4" width="4" height="11.7" fill="#0a7af8"/><rect x="1623.3" y="266.5" width="1" height="18.1" fill="#8aaade"/><rect x="1621.8" y="279.2" width="4" height="1.6" fill="#a0caf8"/><rect x="1629.7" y="267.1" width="1" height="13.0" fill="#8aaade"/><rect x="1628.2" y="277.3" width="4" height="1.6" fill="#a0caf8"/><rect x="1636.1" y="238.1" width="1" height="44.0" fill="#8aaade"/><rect x="1634.6" y="239.7" width="4" height="39.9" fill="#a0caf8"/><rect x="1642.5" y="213.4" width="1" height="28.2" fill="#8aaade"/><rect x="1641.0" y="214.7" width="4" height="26.5" fill="#a0caf8"/><rect x="1648.9" y="191.4" width="1" height="29.2" fill="#0a7af8"/><rect x="1647.4" y="210.5" width="4" height="5.5" fill="#0a7af8"/><rect x="1655.3" y="173.5" width="1" height="40.9" fill="#8aaade"/><rect x="1653.8" y="194.5" width="4" height="19.9" fill="#a0caf8"/><rect x="1661.7" y="151.7" width="1" height="61.1" fill="#8aaade"/><rect x="1660.2" y="153.0" width="4" height="38.0" fill="#a0caf8"/><rect x="1668.1" y="140.0" width="1" height="39.7" fill="#0a7af8"/><rect x="1666.6" y="143.3" width="4" height="14.6" fill="#0a7af8"/><rect x="1674.5" y="151.1" width="1" height="72.6" fill="#0a7af8"/><rect x="1673.0" y="156.9" width="4" height="40.9" fill="#0a7af8"/><rect x="1680.9" y="193.9" width="1" height="40.9" fill="#8aaade"/><rect x="1679.4" y="200.3" width="4" height="1.2" fill="#a0caf8"/><rect x="1687.3" y="192.5" width="1" height="24.7" fill="#8aaade"/><rect x="1685.8" y="198.4" width="4" height="2.3" fill="#a0caf8"/><rect x="1693.7" y="197.8" width="1" height="28.6" fill="#0a7af8"/><rect x="1692.2" y="201.1" width="4" height="11.7" fill="#0a7af8"/><rect x="1700.1" y="175.8" width="1" height="42.4" fill="#8aaade"/><rect x="1698.6" y="181.6" width="4" height="31.2" fill="#a0caf8"/><rect x="1706.5" y="170.0" width="1" height="29.8" fill="#0a7af8"/><rect x="1705.0" y="181.6" width="4" height="7.0" fill="#0a7af8"/><rect x="1712.9" y="164.1" width="1" height="36.2" fill="#8aaade"/><rect x="1711.4" y="179.3" width="4" height="9.3" fill="#a0caf8"/><rect x="1719.3" y="153.6" width="1" height="31.2" fill="#8aaade"/><rect x="1717.8" y="166.1" width="4" height="13.6" fill="#a0caf8"/><rect x="1725.7" y="153.6" width="1" height="28.6" fill="#8aaade"/><rect x="1724.2" y="162.1" width="4" height="1.2" fill="#a0caf8"/><rect x="1732.1" y="151.7" width="1" height="47.5" fill="#0a7af8"/><rect x="1730.6" y="163.3" width="4" height="18.3" fill="#0a7af8"/><rect x="1738.5" y="155.5" width="1" height="28.6" fill="#8aaade"/><rect x="1737.0" y="161.4" width="4" height="21.8" fill="#a0caf8"/><rect x="1744.9" y="135.5" width="1" height="28.6" fill="#8aaade"/><rect x="1743.4" y="140.0" width="4" height="22.2" fill="#a0caf8"/><rect x="1751.3" y="128.3" width="1" height="20.2" fill="#8aaade"/><rect x="1749.8" y="132.2" width="4" height="7.2" fill="#a0caf8"/><rect x="1757.7" y="112.7" width="1" height="25.3" fill="#8aaade"/><rect x="1756.2" y="127.7" width="4" height="4.9" fill="#a0caf8"/><rect x="1764.1" y="103.0" width="1" height="27.3" fill="#8aaade"/><rect x="1762.6" y="103.8" width="4" height="22.0" fill="#a0caf8"/><rect x="1770.5" y="92.7" width="1" height="28.6" fill="#8aaade"/><rect x="1769.0" y="98.5" width="4" height="5.3" fill="#a0caf8"/><rect x="1776.9" y="85.8" width="1" height="47.1" fill="#0a7af8"/><rect x="1775.4" y="98.5" width="4" height="6.4" fill="#0a7af8"/><rect x="1783.3" y="94.6" width="1" height="37.6" fill="#0a7af8"/><rect x="1781.8" y="103.0" width="4" height="22.8" fill="#0a7af8"/><rect x="1789.7" y="118.0" width="1" height="56.5" fill="#8aaade"/><rect x="1788.2" y="118.6" width="4" height="9.7" fill="#a0caf8"/><rect x="1796.1" y="99.9" width="1" height="31.7" fill="#8aaade"/><rect x="1794.6" y="103.8" width="4" height="14.8" fill="#a0caf8"/><rect x="1802.5" y="104.9" width="1" height="46.7" fill="#0a7af8"/><rect x="1801.0" y="104.9" width="4" height="46.7" fill="#0a7af8"/><rect x="1808.9" y="135.5" width="1" height="35.6" fill="#8aaade"/><rect x="1807.4" y="150.5" width="4" height="1.2" fill="#a0caf8"/><rect x="1815.3" y="147.2" width="1" height="47.7" fill="#0a7af8"/><rect x="1813.8" y="148.5" width="4" height="46.0" fill="#0a7af8"/><rect x="1821.7" y="135.5" width="1" height="59.4" fill="#8aaade"/><rect x="1820.2" y="136.9" width="4" height="58.0" fill="#a0caf8"/><rect x="1828.1" y="121.9" width="1" height="25.3" fill="#8aaade"/><rect x="1826.6" y="130.0" width="4" height="1.2" fill="#a0caf8"/><rect x="1834.5" y="126.3" width="1" height="18.9" fill="#8aaade"/><rect x="1833.0" y="128.3" width="4" height="1.9" fill="#a0caf8"/><rect x="1840.9" y="121.3" width="1" height="7.4" fill="#8aaade"/><rect x="1839.4" y="121.9" width="4" height="6.8" fill="#a0caf8"/>
<path fill="none" stroke="#ff0808" stroke-width="1.6" d="M4.0,101.6 C4.2,101.7 1.0,100.1 5.5,102.2 C10.1,104.3 21.8,110.3 31.3,114.2 C40.8,118.1 52.1,122.2 62.5,125.6 C72.9,129.0 83.4,131.3 93.8,134.6 C104.2,137.9 114.6,142.2 125.0,145.5 C135.4,148.8 145.9,151.2 156.3,154.1 C166.7,157.0 177.2,159.8 187.6,162.7 C198.0,165.6 208.5,168.7 218.9,171.3 C229.3,173.9 236.6,176.0 250.1,178.3 C263.6,180.6 286.5,183.4 300.0,185.3 C313.5,187.2 320.9,187.9 331.3,189.5 C341.7,191.1 352.1,192.9 362.5,194.7 C372.9,196.4 383.4,197.9 393.8,200.0 C404.2,202.1 414.6,205.0 425.0,207.2 C435.4,209.4 445.9,211.4 456.3,213.0 C466.7,214.6 477.2,215.5 487.6,216.6 C498.0,217.7 511.1,219.1 518.9,219.7 C526.7,220.3 526.7,220.2 534.5,220.3 C542.3,220.4 554.9,220.5 565.8,220.3 C576.7,220.1 589.1,219.6 600.0,219.0 C610.9,218.4 620.9,217.5 631.3,216.9 C641.7,216.3 652.1,216.0 662.5,215.3 C672.9,214.7 683.4,214.3 693.8,213.0 C704.2,211.7 714.6,209.2 725.0,207.5 C735.4,205.8 745.9,204.4 756.3,202.8 C766.7,201.2 777.2,199.2 787.6,197.8 C798.0,196.4 808.5,195.6 818.9,194.2 C829.3,192.8 842.3,190.8 850.1,189.5 C857.9,188.2 860.5,187.3 865.7,186.4 C870.9,185.5 875.7,184.3 881.4,184.1 C887.1,183.8 891.7,184.3 900.0,184.9 C908.3,185.5 920.9,186.7 931.3,187.5 C941.7,188.3 952.1,189.1 962.5,189.5 C972.9,189.9 983.4,190.0 993.8,190.0 C1004.2,190.0 1014.6,190.0 1025.0,189.5 C1035.4,189.0 1045.9,187.6 1056.3,187.2 C1066.7,186.8 1077.2,186.8 1087.6,186.9 C1098.0,187.0 1108.5,187.1 1118.9,187.5 C1129.3,187.9 1139.7,188.8 1150.1,189.5 C1160.5,190.2 1173.1,191.4 1181.4,191.9 C1189.7,192.4 1191.9,192.4 1200.0,192.7 C1208.1,193.0 1220.0,193.3 1230.0,193.6 C1240.0,193.9 1252.9,194.4 1260.0,194.4 C1267.1,194.4 1268.3,193.6 1272.5,193.5 C1276.7,193.4 1280.8,193.6 1285.0,193.8 C1289.2,193.9 1293.3,194.0 1297.5,194.4 C1301.7,194.8 1305.8,195.4 1310.0,196.0 C1314.2,196.6 1318.3,196.9 1322.5,197.8 C1326.7,198.6 1330.8,199.7 1335.0,201.2 C1339.2,202.8 1343.3,205.0 1347.5,206.9 C1351.7,208.8 1355.8,210.6 1360.0,212.5 C1364.2,214.4 1368.3,216.0 1372.5,218.1 C1376.7,220.2 1380.8,222.9 1385.0,225.0 C1389.2,227.1 1393.3,229.0 1397.5,230.6 C1401.7,232.2 1405.8,233.2 1410.0,234.4 C1414.2,235.6 1418.3,236.5 1422.5,237.5 C1426.7,238.5 1430.8,239.7 1435.0,240.6 C1439.2,241.5 1443.3,242.3 1447.5,243.1 C1451.7,243.9 1455.8,244.8 1460.0,245.6 C1464.2,246.4 1468.3,247.3 1472.5,248.1 C1476.7,248.9 1480.4,249.7 1485.0,250.6 C1489.6,251.5 1491.4,251.8 1500.0,253.5 C1508.6,255.2 1524.3,258.1 1536.5,260.5 C1548.7,262.9 1562.4,266.3 1573.0,267.8 C1583.6,269.3 1589.7,269.3 1600.3,269.6 C1610.9,269.9 1626.2,270.1 1636.8,269.6 C1647.4,269.1 1655.0,267.7 1664.1,266.5 C1673.2,265.3 1682.4,263.5 1691.5,262.3 C1700.6,261.1 1708.3,260.5 1718.9,259.2 C1729.5,257.9 1743.2,256.7 1755.3,254.7 C1767.4,252.7 1781.1,249.1 1791.8,247.0 C1802.5,244.9 1811.0,243.3 1819.2,241.9 C1827.4,240.5 1837.4,239.3 1841.0,238.8"/>
<polyline fill="none" stroke="#ffffff" stroke-width="1.6" stroke-linejoin="round" points="4.6,411.3 11.0,409.9 17.4,410.5 23.8,408.2 30.2,405.1 36.6,400.5 43.0,394.4 49.4,390.8 55.8,385.1 62.2,379.1 68.6,372.8 75.0,367.5 81.4,362.1 87.8,358.1 94.2,355.1 100.6,350.9 107.0,350.7 113.4,349.1 119.8,350.1 126.2,353.5 132.6,355.4 139.0,354.6 145.4,350.6 151.8,347.9 158.2,348.4 164.6,347.6 171.0,348.6 177.4,349.4 183.8,346.9 190.2,343.1 196.6,339.3 203.0,335.9 209.4,334.8 215.8,338.0 222.2,341.5 228.6,342.5 235.0,343.0 241.4,337.7 247.8,332.7 254.2,327.3 260.6,322.5 267.0,317.0 273.4,312.0 279.8,308.5 286.2,305.2 292.6,302.2 299.0,298.3 305.4,294.9 311.8,292.8 318.2,290.5 324.6,289.1 331.0,291.7 337.4,293.6 343.8,295.7 350.2,295.4 356.6,293.7 363.0,291.7 369.4,293.1 375.8,294.9 382.2,298.6 388.6,300.4 395.0,299.4 401.4,299.9 407.8,302.5 414.2,306.3 420.6,310.4 427.0,315.5 433.4,317.1 439.8,320.5 446.2,321.5 452.6,323.4 459.0,320.9 465.4,318.6 471.8,317.1 478.2,314.9 484.6,313.4 491.0,311.7 497.4,309.4 503.8,305.8 510.2,301.4 516.6,297.3 523.0,294.9 529.4,291.4 535.8,287.6 542.2,281.8 548.6,275.0 555.0,267.7 561.4,262.2 567.8,256.3 574.2,250.6 580.6,245.9 587.0,242.1 593.4,237.1 599.8,231.0 606.2,224.6 612.6,217.2 619.0,211.7 625.4,205.3 631.8,201.2 638.2,202.5 644.6,201.9 651.0,199.2 657.4,199.1 663.8,198.3 670.2,197.0 676.6,192.1 683.0,187.8 689.4,186.6 695.8,180.6 702.2,174.5 708.6,168.5 715.0,162.1 721.4,154.9 727.8,147.0 734.2,142.3 740.6,138.0 747.0,134.4 753.4,133.9 759.8,131.1 766.2,125.2 772.6,122.1 779.0,121.2 785.4,122.1 791.8,121.7 798.2,122.8 804.6,124.1 811.0,126.0 817.4,124.1 823.8,120.9 830.2,118.6 836.6,115.4 843.0,112.0 849.4,105.0 855.8,97.8 862.2,94.6 868.6,92.1 875.0,91.5 881.4,96.0 887.8,102.6 894.2,110.8 900.6,125.3 907.0,138.3 913.4,148.0 919.8,157.5 926.2,171.7 932.6,185.4 939.0,193.6 945.4,198.2 951.8,200.3 958.2,203.1 964.6,204.2 971.0,205.9 977.4,203.8 983.8,201.3 990.2,201.2 996.6,200.2 1003.0,198.0 1009.4,196.2 1015.8,193.4 1022.2,188.6 1028.6,183.3 1035.0,178.5 1041.4,174.6 1047.8,171.4 1054.2,168.7 1060.6,165.2 1067.0,164.8 1073.4,170.1 1079.8,173.5 1086.2,178.0 1092.6,179.4 1099.0,181.0 1105.4,182.6 1111.8,182.5 1118.2,185.7 1124.6,188.2 1131.0,192.3 1137.4,198.7 1143.8,204.0 1150.2,208.3 1156.6,211.7 1163.0,212.7 1169.4,215.0 1175.8,214.5 1182.2,215.4 1188.6,218.7 1195.0,219.9 1201.4,222.2 1207.8,222.1 1214.2,221.9 1220.6,221.0 1227.0,219.7 1233.4,218.5 1239.8,219.4 1246.2,217.1 1252.6,214.8 1259.0,211.8 1265.4,207.3 1271.8,202.0 1278.2,200.8 1284.6,199.8 1291.0,203.2 1297.4,209.1 1303.8,216.4 1310.2,220.6 1316.6,223.6 1323.0,233.5 1329.4,246.5 1335.8,267.8 1342.2,293.2 1348.6,318.1 1355.0,335.5 1361.4,352.6 1367.8,369.9 1374.2,390.0 1380.6,405.9 1387.0,416.2 1393.4,422.9 1399.8,426.1 1406.2,426.6 1412.6,423.2 1419.0,422.7 1425.4,419.4 1431.8,417.4 1438.2,413.6 1444.6,409.8 1451.0,406.6 1457.4,403.5 1463.8,400.7 1470.2,397.3 1476.6,393.9 1483.0,391.4 1489.4,388.1 1495.8,388.1 1502.2,390.2 1508.6,389.1 1515.0,388.8 1521.4,391.6 1527.8,390.8 1534.2,390.0 1540.6,390.3 1547.0,394.1 1553.4,395.8 1559.8,394.5 1566.2,391.3 1572.6,385.5 1579.0,379.6 1585.4,373.6 1591.8,366.0 1598.2,360.2 1604.6,354.6 1611.0,345.8 1617.4,339.1 1623.8,332.8 1630.2,326.9 1636.6,317.7 1643.0,306.9 1649.4,297.3 1655.8,286.5 1662.2,272.4 1668.6,260.4 1675.0,253.8 1681.4,248.2 1687.8,243.0 1694.2,239.8 1700.6,233.7 1707.0,228.9 1713.4,223.7 1719.8,217.6 1726.2,211.8 1732.6,208.6 1739.0,203.7 1745.4,196.9 1751.8,190.1 1758.2,183.6 1764.6,175.2 1771.0,167.1 1777.4,160.5 1783.8,156.9 1790.2,152.8 1796.6,147.7 1803.0,148.1 1809.4,148.3 1815.8,153.2 1822.2,151.5 1828.6,149.2 1835.0,147.0 1841.4,144.4"/>
<polyline fill="none" stroke="#f29100" stroke-width="1.6" stroke-linejoin="round" points="4.6,361.5 11.0,363.4 17.4,366.0 23.8,367.1 30.2,367.7 36.6,367.4 43.0,366.1 49.4,365.8 55.8,364.4 62.2,362.6 68.6,360.4 75.0,358.5 81.4,356.4 87.8,354.8 94.2,353.5 100.6,351.6 107.0,351.5 113.4,350.7 119.8,351.1 126.2,352.7 132.6,353.6 139.0,353.3 145.4,351.5 151.8,350.2 158.2,350.3 164.6,349.8 171.0,350.1 177.4,350.4 183.8,349.2 190.2,347.3 196.6,345.3 203.0,343.4 209.4,342.5 215.8,343.6 222.2,345.0 228.6,345.3 235.0,345.4 241.4,342.7 247.8,340.1 254.2,337.2 260.6,334.4 267.0,331.2 273.4,328.1 279.8,325.6 286.2,323.2 292.6,320.9 299.0,318.1 305.4,315.5 311.8,313.5 318.2,311.4 324.6,309.7 331.0,309.9 337.4,309.8 343.8,310.0 350.2,309.2 356.6,307.7 363.0,306.0 369.4,306.0 375.8,306.2 382.2,307.4 388.6,307.8 395.0,307.0 401.4,306.8 407.8,307.7 414.2,309.2 420.6,311.0 427.0,313.4 433.4,314.3 439.8,316.1 446.2,316.8 452.6,317.9 459.0,317.0 465.4,316.1 471.8,315.5 478.2,314.5 484.6,313.9 491.0,313.0 497.4,311.9 503.8,310.0 510.2,307.7 516.6,305.5 523.0,303.9 529.4,301.8 535.8,299.5 542.2,296.1 548.6,292.2 555.0,287.9 561.4,284.2 567.8,280.3 574.2,276.4 580.6,272.9 587.0,269.7 593.4,266.0 599.8,261.6 606.2,257.1 612.6,251.9 619.0,247.6 625.4,242.7 631.8,238.9 638.2,237.7 644.6,235.6 651.0,232.7 657.4,230.9 663.8,228.9 670.2,226.8 676.6,223.0 683.0,219.4 689.4,217.3 695.8,212.9 702.2,208.3 708.6,203.8 715.0,199.0 721.4,193.7 727.8,188.0 734.2,183.7 740.6,179.6 747.0,175.8 753.4,173.5 759.8,170.2 766.2,165.5 772.6,162.0 779.0,159.6 785.4,158.1 791.8,156.1 798.2,154.9 804.6,153.9 811.0,153.3 817.4,151.1 823.8,148.2 830.2,145.7 836.6,142.8 843.0,139.9 849.4,135.2 855.8,130.2 862.2,127.1 868.6,124.3 875.0,122.4 881.4,123.0 887.8,124.7 894.2,127.5 900.6,133.6 907.0,139.4 913.4,143.9 919.8,148.6 926.2,155.8 932.6,163.1 939.0,168.1 945.4,171.6 951.8,173.9 958.2,176.6 964.6,178.4 971.0,180.5 977.4,180.8 983.8,180.8 990.2,181.7 996.6,182.2 1003.0,182.1 1009.4,182.0 1015.8,181.4 1022.2,179.7 1028.6,177.6 1035.0,175.7 1041.4,173.9 1047.8,172.5 1054.2,171.1 1060.6,169.3 1067.0,169.0 1073.4,171.3 1079.8,172.8 1086.2,175.0 1092.6,175.8 1099.0,176.7 1105.4,177.7 1111.8,177.9 1118.2,179.6 1124.6,181.2 1131.0,183.5 1137.4,186.9 1143.8,190.0 1150.2,192.8 1156.6,195.2 1163.0,196.5 1169.4,198.4 1175.8,199.0 1182.2,200.2 1188.6,202.5 1195.0,203.9 1201.4,205.8 1207.8,206.5 1214.2,207.2 1220.6,207.6 1227.0,207.6 1233.4,207.6 1239.8,208.6 1246.2,208.0 1252.6,207.4 1259.0,206.3 1265.4,204.5 1271.8,202.1 1278.2,201.5 1284.6,201.0 1291.0,202.6 1297.4,205.4 1303.8,209.0 1310.2,211.4 1316.6,213.3 1323.0,218.5 1329.4,225.5 1335.8,236.6 1342.2,250.2 1348.6,264.2 1355.0,275.2 1361.4,286.3 1367.8,297.8 1374.2,311.0 1380.6,322.5 1387.0,331.5 1393.4,339.0 1399.8,344.7 1406.2,349.0 1412.6,351.3 1419.0,354.6 1425.4,356.5 1431.8,358.7 1438.2,359.8 1444.6,360.7 1451.0,361.6 1457.4,362.4 1463.8,363.1 1470.2,363.4 1476.6,363.4 1483.0,363.8 1489.4,363.6 1495.8,364.8 1502.2,367.0 1508.6,367.6 1515.0,368.6 1521.4,370.9 1527.8,371.6 1534.2,372.2 1540.6,373.2 1547.0,375.8 1553.4,377.5 1559.8,377.9 1566.2,377.2 1572.6,375.1 1579.0,372.8 1585.4,370.3 1591.8,366.9 1598.2,364.1 1604.6,361.2 1611.0,356.7 1617.4,353.0 1623.8,349.3 1630.2,345.7 1636.6,340.4 1643.0,334.1 1649.4,328.2 1655.8,321.5 1662.2,313.1 1668.6,305.3 1675.0,299.9 1681.4,295.0 1687.8,290.2 1694.2,286.3 1700.6,281.0 1707.0,276.4 1713.4,271.6 1719.8,266.3 1726.2,261.1 1732.6,257.1 1739.0,252.3 1745.4,246.7 1751.8,241.0 1758.2,235.3 1764.6,228.7 1771.0,222.2 1777.4,216.4 1783.8,211.8 1790.2,207.2 1796.6,202.0 1803.0,199.5 1809.4,197.0 1815.8,196.9 1822.2,193.9 1828.6,190.7 1835.0,187.6 1841.4,184.3"/>
<rect x="4" y="84.15" width="1871" height="1.7" fill="#ff0808"/>
<rect x="4" y="136.15" width="1871" height="1.7" fill="#ff0808"/>
<rect x="4" y="151.65" width="1871" height="1.7" fill="#ff0808"/>
<rect x="4" y="259.65" width="1871" height="1.7" fill="#ff0808"/>
<g stroke="#ff0808" fill="none">
<line x1="1033" y1="3" x2="1874.75" y2="122" stroke-width="1.8"/>
<line x1="1335.8" y1="447.3" x2="1813.5" y2="3" stroke-width="1.8"/>
<line x1="1374.1" y1="609.2" x2="1873.4" y2="144.4" stroke-width="1.8"/>
<line x1="1777.7" y1="84.9" x2="1850.7" y2="136.5" stroke-width="2.2"/>
<ellipse cx="1821.8" cy="204" rx="5.4" ry="11.1" transform="rotate(-38 1821.8 204)" stroke-width="2"/>
</g>
</g>
<path d="M1497.2,3 L1507.6,3 L1502.4,9 Z" fill="#e8e8f0"/>
<g>
<rect x="8.2" y="7.1" width="13.7" height="12.1" fill="#dcdcec"/><rect x="8.2" y="7.1" width="13.7" height="2.7" fill="#9a9ae6"/><rect x="10" y="10.9" width="4.6" height="7.1" fill="#eaa29c"/><rect x="16.1" y="10.9" width="3.9" height="7.1" fill="#a2a2f4"/>
<path d="M25.5,7.75 H29 V11.9 H31.9 V18.6 H25.5 Z" fill="#3a3af0"/><path d="M33.2,12.1 H36.5 V7.75 H40 V18.6 H33.2 Z" fill="#cc4438"/><rect x="29.4" y="8.2" width="6.3" height="2.7" fill="#c4c4c0"/>
<text x="46.5" y="17.6" font-family="Liberation Sans, sans-serif" font-size="10" fill="#dfe2ec" textLength="253" lengthAdjust="spacingAndGlyphs" style="white-space:pre">BRENT, Weekly:  BRENT Crude Oil (100 barrels) CFD, USD</text>
</g>
<rect x="1875" y="10.9" width="3" height="1" fill="#c4c8dc"/>
<text x="1878.7" y="15.0" font-family="Liberation Sans, sans-serif" font-size="10" fill="#dde0ea">87.20</text>
<rect x="1875" y="36.7" width="3" height="1" fill="#c4c8dc"/>
<text x="1878.7" y="40.8" font-family="Liberation Sans, sans-serif" font-size="10" fill="#dde0ea">84.10</text>
<rect x="1875" y="62.6" width="3" height="1" fill="#c4c8dc"/>
<text x="1878.7" y="66.7" font-family="Liberation Sans, sans-serif" font-size="10" fill="#dde0ea">81.00</text>
<rect x="1875" y="88.4" width="3" height="1" fill="#c4c8dc"/>
<text x="1878.7" y="92.5" font-family="Liberation Sans, sans-serif" font-size="10" fill="#dde0ea">77.90</text>
<rect x="1875" y="114.2" width="3" height="1" fill="#c4c8dc"/>
<text x="1878.7" y="118.3" font-family="Liberation Sans, sans-serif" font-size="10" fill="#dde0ea">74.80</text>
<rect x="1875" y="140.1" width="3" height="1" fill="#c4c8dc"/>
<text x="1878.7" y="144.2" font-family="Liberation Sans, sans-serif" font-size="10" fill="#dde0ea">71.70</text>
<rect x="1875" y="165.9" width="3" height="1" fill="#c4c8dc"/>
<text x="1878.7" y="170.0" font-family="Liberation Sans, sans-serif" font-size="10" fill="#dde0ea">68.60</text>
<rect x="1875" y="191.7" width="3" height="1" fill="#c4c8dc"/>
<text x="1878.7" y="195.8" font-family="Liberation Sans, sans-serif" font-size="10" fill="#dde0ea">65.50</text>
<rect x="1875" y="217.6" width="3" height="1" fill="#c4c8dc"/>
<text x="1878.7" y="221.7" font-family="Liberation Sans, sans-serif" font-size="10" fill="#dde0ea">62.40</text>
<rect x="1875" y="243.4" width="3" height="1" fill="#c4c8dc"/>
<text x="1878.7" y="247.5" font-family="Liberation Sans, sans-serif" font-size="10" fill="#dde0ea">59.30</text>
<rect x="1875" y="269.3" width="3" height="1" fill="#c4c8dc"/>
<text x="1878.7" y="273.4" font-family="Liberation Sans, sans-serif" font-size="10" fill="#dde0ea">56.20</text>
<rect x="1875" y="295.1" width="3" height="1" fill="#c4c8dc"/>
<text x="1878.7" y="299.2" font-family="Liberation Sans, sans-serif" font-size="10" fill="#dde0ea">53.10</text>
<rect x="1875" y="320.9" width="3" height="1" fill="#c4c8dc"/>
<text x="1878.7" y="325.0" font-family="Liberation Sans, sans-serif" font-size="10" fill="#dde0ea">50.00</text>
<rect x="1875" y="346.8" width="3" height="1" fill="#c4c8dc"/>
<text x="1878.7" y="350.9" font-family="Liberation Sans, sans-serif" font-size="10" fill="#dde0ea">46.90</text>
<rect x="1875" y="372.6" width="3" height="1" fill="#c4c8dc"/>
<text x="1878.7" y="376.7" font-family="Liberation Sans, sans-serif" font-size="10" fill="#dde0ea">43.80</text>
<rect x="1875" y="398.4" width="3" height="1" fill="#c4c8dc"/>
<text x="1878.7" y="402.5" font-family="Liberation Sans, sans-serif" font-size="10" fill="#dde0ea">40.70</text>
<rect x="1875" y="424.3" width="3" height="1" fill="#c4c8dc"/>
<text x="1878.7" y="428.4" font-family="Liberation Sans, sans-serif" font-size="10" fill="#dde0ea">37.60</text>
<rect x="1875" y="450.1" width="3" height="1" fill="#c4c8dc"/>
<text x="1878.7" y="454.2" font-family="Liberation Sans, sans-serif" font-size="10" fill="#dde0ea">34.50</text>
<rect x="1875" y="475.9" width="3" height="1" fill="#c4c8dc"/>
<text x="1878.7" y="480.0" font-family="Liberation Sans, sans-serif" font-size="10" fill="#dde0ea">31.40</text>
<rect x="1875" y="501.8" width="3" height="1" fill="#c4c8dc"/>
<text x="1878.7" y="505.9" font-family="Liberation Sans, sans-serif" font-size="10" fill="#dde0ea">28.30</text>
<rect x="1875" y="527.6" width="3" height="1" fill="#c4c8dc"/>
<text x="1878.7" y="531.7" font-family="Liberation Sans, sans-serif" font-size="10" fill="#dde0ea">25.20</text>
<rect x="1875" y="553.4" width="3" height="1" fill="#c4c8dc"/>
<text x="1878.7" y="557.5" font-family="Liberation Sans, sans-serif" font-size="10" fill="#dde0ea">22.10</text>
<rect x="1875" y="579.3" width="3" height="1" fill="#c4c8dc"/>
<text x="1878.7" y="583.4" font-family="Liberation Sans, sans-serif" font-size="10" fill="#dde0ea">19.00</text>
<rect x="1875" y="605.1" width="3" height="1" fill="#c4c8dc"/>
<text x="1878.7" y="609.2" font-family="Liberation Sans, sans-serif" font-size="10" fill="#dde0ea">15.90</text>
<rect x="1875" y="630.9" width="3" height="1" fill="#c4c8dc"/>
<text x="1878.7" y="635.0" font-family="Liberation Sans, sans-serif" font-size="10" fill="#dde0ea">12.80</text>
<rect x="1875" y="656.8" width="3" height="1" fill="#c4c8dc"/>
<text x="1878.7" y="660.9" font-family="Liberation Sans, sans-serif" font-size="10" fill="#dde0ea">9.70</text>
<rect x="1877" y="79" width="32" height="11" fill="#ff0000"/>
<text x="1879" y="88.1" font-family="Liberation Sans, sans-serif" font-size="10" fill="#7a0a18">78.37</text>
<rect x="1877" y="116.1" width="32" height="10.800000000000011" fill="#2a9a98"/>
<text x="1879" y="125.1" font-family="Liberation Sans, sans-serif" font-size="10" fill="#163a5c">73.94</text>
<rect x="1877" y="131.3" width="32" height="10.899999999999977" fill="#ff0000"/>
<text x="1879" y="140.3" font-family="Liberation Sans, sans-serif" font-size="10" fill="#7a0a18">72.14</text>
<rect x="1877" y="147.4" width="32" height="10.699999999999989" fill="#ff0000"/>
<text x="1879" y="156.3" font-family="Liberation Sans, sans-serif" font-size="10" fill="#7a0a18">70.25</text>
<rect x="1877" y="255" width="32" height="11" fill="#ff0000"/>
<text x="1879" y="264.1" font-family="Liberation Sans, sans-serif" font-size="10" fill="#7a0a18">57.22</text>
<path d="M10,652.6 L18.3,652.6 L14.15,645.1 Z" fill="#0a8a0a"/>
<text x="21.8" y="652.6" font-family="Liberation Sans, sans-serif" font-size="10.6" letter-spacing="0.7" fill="#0a8a0a">Monthly Change: 2.47%</text>
<path d="M10,664.6 L18.3,664.6 L14.15,657.1 Z" fill="#0a8a0a"/>
<text x="21.8" y="664.6" font-family="Liberation Sans, sans-serif" font-size="10.6" letter-spacing="0.7" fill="#0a8a0a">Weekly Change: 0.97%</text>
<path d="M10,676.6 L18.3,676.6 L14.15,669.1 Z" fill="#0a8a0a"/>
<text x="21.8" y="676.6" font-family="Liberation Sans, sans-serif" font-size="10.6" letter-spacing="0.7" fill="#0a8a0a">Daily Change: 0.97%</text>
<path d="M503.1,667.1 H530.8 L533.7,673.5 L530.8,680 H503.1 Z" fill="#f0f0f0"/><rect x="503" y="667" width="1" height="15.5" fill="#e0e0e8"/>
<text x="505.3" y="677.6" font-family="Liberation Sans, sans-serif" font-size="10" fill="#404040">22:30</text>
<text x="1878.7" y="692.8000000000001" font-family="Liberation Sans, sans-serif" font-size="10" fill="#dde0ea">8.051</text>
<text x="1878.7" y="742.85" font-family="Liberation Sans, sans-serif" font-size="10" fill="#dde0ea">0.000</text>
<text x="1878.5" y="823.1" font-family="Liberation Sans, sans-serif" font-size="10" fill="#dde0ea">-12.275</text>
<rect x="1875" y="684.5" width="4" height="1" fill="#c4c8dc"/><rect x="1875" y="738.75" width="3" height="1" fill="#c4c8dc"/><rect x="1875" y="824" width="4" height="1" fill="#c4c8dc"/>
<g clip-path="url(#cd)">
<line x1="4" y1="739.25" x2="1875" y2="739.25" stroke="#c0c4d8" stroke-width="1" stroke-dasharray="2.5,3.9"/>
<path d="M4.6,739.25 V761.7 M11.0,739.25 V758.6 M17.4,739.25 V757.1 M23.8,739.25 V753.9 M30.2,739.25 V750.6 M36.6,739.25 V746.8 M43.0,739.25 V742.4 M49.4,739.25 V740.1 M55.8,739.25 V736.8 M62.2,739.25 V733.6 M68.6,739.25 V730.7 M75.0,739.25 V728.6 M81.4,739.25 V726.7 M87.8,739.25 V725.9 M94.2,739.25 V725.8 M100.6,739.25 V724.9 M107.0,739.25 V726.6 M113.4,739.25 V727.1 M119.8,739.25 V729.3 M126.2,739.25 V732.6 M132.6,739.25 V734.6 M139.0,739.25 V734.6 M145.4,739.25 V732.6 M151.8,739.25 V731.7 M158.2,739.25 V732.9 M164.6,739.25 V733.1 M171.0,739.25 V734.4 M177.4,739.25 V735.5 M183.8,739.25 V734.3 M190.2,739.25 V732.5 M196.6,739.25 V730.9 M203.0,739.25 V729.7 M209.4,739.25 V730.1 M215.8,739.25 V733.1 M222.2,739.25 V736.0 M228.6,739.25 V736.9 M235.0,739.25 V737.4 M241.4,739.25 V734.3 M247.8,739.25 V731.7 M254.2,739.25 V729.2 M260.6,739.25 V727.3 M267.0,739.25 V725.3 M273.4,739.25 V723.8 M279.8,739.25 V723.3 M286.2,739.25 V723.1 M292.6,739.25 V723.1 M299.0,739.25 V722.5 M305.4,739.25 V722.3 M311.8,739.25 V722.9 M318.2,739.25 V723.3 M324.6,739.25 V724.2 M331.0,739.25 V727.5 M337.4,739.25 V729.9 M343.8,739.25 V732.2 M350.2,739.25 V732.7 M356.6,739.25 V732.3 M363.0,739.25 V731.7 M369.4,739.25 V733.4 M375.8,739.25 V735.1 M382.2,739.25 V737.7 M388.6,739.25 V738.9 M395.0,739.25 V738.2 M401.4,739.25 V738.5 M407.8,739.25 V740.2 M414.2,739.25 V742.3 M420.6,739.25 V744.5 M427.0,739.25 V746.9 M433.4,739.25 V747.0 M439.8,739.25 V748.1 M446.2,739.25 V747.6 M452.6,739.25 V747.8 M459.0,739.25 V745.2 M465.4,739.25 V743.0 M471.8,739.25 V741.6 M478.2,739.25 V740.0 M484.6,739.25 V739.0 M491.0,739.25 V738.0 M497.4,739.25 V736.7 M503.8,739.25 V734.8 M510.2,739.25 V732.6 M516.6,739.25 V730.9 M523.0,739.25 V730.4 M529.4,739.25 V729.3 M535.8,739.25 V728.1 M542.2,739.25 V725.8 M548.6,739.25 V723.1 M555.0,739.25 V720.5 M561.4,739.25 V719.2 M567.8,739.25 V717.9 M574.2,739.25 V716.8 M580.6,739.25 V716.5 M587.0,739.25 V716.7 M593.4,739.25 V716.2 M599.8,739.25 V715.0 M606.2,739.25 V713.8 M612.6,739.25 V712.0 M619.0,739.25 V711.7 M625.4,739.25 V710.8 M631.8,739.25 V711.4 M638.2,739.25 V715.4 M644.6,739.25 V717.6 M651.0,739.25 V718.3 M657.4,739.25 V720.5 M663.8,739.25 V722.0 M670.2,739.25 V723.0 M676.6,739.25 V721.6 M683.0,739.25 V720.8 M689.4,739.25 V722.0 M695.8,739.25 V720.1 M702.2,739.25 V718.3 M708.6,739.25 V716.9 M715.0,739.25 V715.4 M721.4,739.25 V713.5 M727.8,739.25 V711.4 M734.2,739.25 V711.5 M740.6,739.25 V712.0 M747.0,739.25 V712.7 M753.4,739.25 V715.4 M759.8,739.25 V716.2 M766.2,739.25 V715.0 M772.6,739.25 V715.7 M779.0,739.25 V717.7 M785.4,739.25 V720.6 M791.8,739.25 V722.3 M798.2,739.25 V724.7 M804.6,739.25 V727.0 M811.0,739.25 V729.4 M817.4,739.25 V729.1 M823.8,739.25 V728.1 M830.2,739.25 V727.7 M836.6,739.25 V726.9 M843.0,739.25 V726.1 M849.4,739.25 V723.1 M855.8,739.25 V720.3 M862.2,739.25 V720.4 M868.6,739.25 V720.9 M875.0,739.25 V722.5 M881.4,739.25 V727.1 M887.8,739.25 V732.5 M894.2,739.25 V738.3 M900.6,739.25 V747.2 M907.0,739.25 V754.2 M913.4,739.25 V758.3 M919.8,739.25 V761.8 M926.2,739.25 V767.8 M932.6,739.25 V772.8 M939.0,739.25 V773.9 M945.4,739.25 V772.6 M951.8,739.25 V769.9 M958.2,739.25 V768.0 M964.6,739.25 V765.4 M971.0,739.25 V763.4 M977.4,739.25 V759.4 M983.8,739.25 V755.6 M990.2,739.25 V753.7 M996.6,739.25 V751.6 M1003.0,739.25 V748.9 M1009.4,739.25 V746.8 M1015.8,739.25 V744.4 M1022.2,739.25 V740.9 M1028.6,739.25 V737.6 M1035.0,739.25 V735.0 M1041.4,739.25 V733.2 M1047.8,739.25 V732.1 M1054.2,739.25 V731.4 M1060.6,739.25 V730.2 M1067.0,739.25 V731.2 M1073.4,739.25 V735.5 M1079.8,739.25 V738.1 M1086.2,739.25 V741.1 M1092.6,739.25 V741.8 M1099.0,739.25 V742.5 M1105.4,739.25 V743.1 M1111.8,739.25 V742.6 M1118.2,739.25 V744.2 M1124.6,739.25 V745.2 M1131.0,739.25 V747.1 M1137.4,739.25 V750.1 M1143.8,739.25 V752.2 M1150.2,739.25 V753.4 M1156.6,739.25 V753.8 M1163.0,739.25 V752.7 M1169.4,739.25 V752.6 M1175.8,739.25 V750.8 M1182.2,739.25 V750.0 M1188.6,739.25 V750.9 M1195.0,739.25 V750.3 M1201.4,739.25 V750.6 M1207.8,739.25 V749.2 M1214.2,739.25 V748.0 M1220.6,739.25 V746.6 M1227.0,739.25 V744.9 M1233.4,739.25 V743.6 M1239.8,739.25 V743.8 M1246.2,739.25 V741.9 M1252.6,739.25 V740.3 M1259.0,739.25 V738.3 M1265.4,739.25 V735.7 M1271.8,739.25 V732.9 M1278.2,739.25 V733.0 M1284.6,739.25 V733.3 M1291.0,739.25 V736.1 M1297.4,739.25 V740.2 M1303.8,739.25 V744.7 M1310.2,739.25 V746.7 M1316.6,739.25 V747.7 M1323.0,739.25 V752.9 M1329.4,739.25 V759.4 M1335.8,739.25 V770.3 M1342.2,739.25 V782.5 M1348.6,739.25 V792.9 M1355.0,739.25 V797.4 M1361.4,739.25 V801.3 M1367.8,739.25 V804.7 M1374.2,739.25 V809.7 M1380.6,739.25 V811.4 M1387.0,739.25 V809.5 M1393.4,739.25 V805.6 M1399.8,739.25 V800.1 M1406.2,739.25 V793.6 M1412.6,739.25 V785.4 M1419.0,739.25 V780.1 M1425.4,739.25 V773.7 M1431.8,739.25 V768.9 M1438.2,739.25 V763.5 M1444.6,739.25 V758.8 M1451.0,739.25 V755.0 M1457.4,739.25 V751.6 M1463.8,739.25 V748.9 M1470.2,739.25 V746.1 M1476.6,739.25 V743.5 M1483.0,739.25 V741.9 M1489.4,739.25 V739.9 M1495.8,739.25 V740.1 M1502.2,739.25 V741.6 M1508.6,739.25 V741.0 M1515.0,739.25 V740.8 M1521.4,739.25 V742.6 M1527.8,739.25 V741.9 M1534.2,739.25 V741.3 M1540.6,739.25 V741.4 M1547.0,739.25 V743.6 M1553.4,739.25 V744.3 M1559.8,739.25 V743.0 M1566.2,739.25 V740.7 M1572.6,739.25 V737.0 M1579.0,739.25 V733.7 M1585.4,739.25 V730.7 M1591.8,739.25 V727.1 M1598.2,739.25 V725.0 M1604.6,739.25 V723.2 M1611.0,739.25 V719.7 M1617.4,739.25 V717.9 M1623.8,739.25 V716.5 M1630.2,739.25 V715.6 M1636.6,739.25 V712.6 M1643.0,739.25 V709.0 M1649.4,739.25 V706.5 M1655.8,739.25 V703.6 M1662.2,739.25 V698.9 M1668.6,739.25 V696.1 M1675.0,739.25 V697.0 M1681.4,739.25 V698.3 M1687.8,739.25 V699.7 M1694.2,739.25 V702.2 M1700.6,739.25 V702.5 M1707.0,739.25 V703.7 M1713.4,739.25 V704.3 M1719.8,739.25 V704.4 M1726.2,739.25 V704.6 M1732.6,739.25 V706.4 M1739.0,739.25 V706.9 M1745.4,739.25 V706.2 M1751.8,739.25 V705.5 M1758.2,739.25 V705.1 M1764.6,739.25 V703.5 M1771.0,739.25 V702.4 M1777.4,739.25 V702.4 M1783.8,739.25 V704.1 M1790.2,739.25 V705.4 M1796.6,739.25 V705.8 M1803.0,739.25 V709.7 M1809.4,739.25 V713.0 M1815.8,739.25 V718.8 M1822.2,739.25 V719.8 M1828.6,739.25 V720.3 M1835.0,739.25 V720.8 M1841.4,739.25 V721.0" stroke="#a6acc6" stroke-width="1" fill="none"/>
<polyline fill="none" stroke="#e01a30" stroke-width="1.2" stroke-dasharray="1.6,1.6" points="4.6,761.7 11.0,758.6 17.4,757.1 23.8,753.9 30.2,750.6 36.6,746.8 43.0,742.4 49.4,740.1 55.8,736.8 62.2,733.6 68.6,730.7 75.0,728.6 81.4,726.7 87.8,725.9 94.2,725.8 100.6,724.9 107.0,726.6 113.4,727.1 119.8,729.3 126.2,732.6 132.6,734.6 139.0,734.6 145.4,732.6 151.8,731.7 158.2,732.9 164.6,733.1 171.0,734.4 177.4,735.5 183.8,734.3 190.2,732.5 196.6,730.9 203.0,729.7 209.4,730.1 215.8,733.1 222.2,736.0 228.6,736.9 235.0,737.4 241.4,734.3 247.8,731.7 254.2,729.2 260.6,727.3 267.0,725.3 273.4,723.8 279.8,723.3 286.2,723.1 292.6,723.1 299.0,722.5 305.4,722.3 311.8,722.9 318.2,723.3 324.6,724.2 331.0,727.5 337.4,729.9 343.8,732.2 350.2,732.7 356.6,732.3 363.0,731.7 369.4,733.4 375.8,735.1 382.2,737.7 388.6,738.9 395.0,738.2 401.4,738.5 407.8,740.2 414.2,742.3 420.6,744.5 427.0,746.9 433.4,747.0 439.8,748.1 446.2,747.6 452.6,747.8 459.0,745.2 465.4,743.0 471.8,741.6 478.2,740.0 484.6,739.0 491.0,738.0 497.4,736.7 503.8,734.8 510.2,732.6 516.6,730.9 523.0,730.4 529.4,729.3 535.8,728.1 542.2,725.8 548.6,723.1 555.0,720.5 561.4,719.2 567.8,717.9 574.2,716.8 580.6,716.5 587.0,716.7 593.4,716.2 599.8,715.0 606.2,713.8 612.6,712.0 619.0,711.7 625.4,710.8 631.8,711.4 638.2,715.4 644.6,717.6 651.0,718.3 657.4,720.5 663.8,722.0 670.2,723.0 676.6,721.6 683.0,720.8 689.4,722.0 695.8,720.1 702.2,718.3 708.6,716.9 715.0,715.4 721.4,713.5 727.8,711.4 734.2,711.5 740.6,712.0 747.0,712.7 753.4,715.4 759.8,716.2 766.2,715.0 772.6,715.7 779.0,717.7 785.4,720.6 791.8,722.3 798.2,724.7 804.6,727.0 811.0,729.4 817.4,729.1 823.8,728.1 830.2,727.7 836.6,726.9 843.0,726.1 849.4,723.1 855.8,720.3 862.2,720.4 868.6,720.9 875.0,722.5 881.4,727.1 887.8,732.5 894.2,738.3 900.6,747.2 907.0,754.2 913.4,758.3 919.8,761.8 926.2,767.8 932.6,772.8 939.0,773.9 945.4,772.6 951.8,769.9 958.2,768.0 964.6,765.4 971.0,763.4 977.4,759.4 983.8,755.6 990.2,753.7 996.6,751.6 1003.0,748.9 1009.4,746.8 1015.8,744.4 1022.2,740.9 1028.6,737.6 1035.0,735.0 1041.4,733.2 1047.8,732.1 1054.2,731.4 1060.6,730.2 1067.0,731.2 1073.4,735.5 1079.8,738.1 1086.2,741.1 1092.6,741.8 1099.0,742.5 1105.4,743.1 1111.8,742.6 1118.2,744.2 1124.6,745.2 1131.0,747.1 1137.4,750.1 1143.8,752.2 1150.2,753.4 1156.6,753.8 1163.0,752.7 1169.4,752.6 1175.8,750.8 1182.2,750.0 1188.6,750.9 1195.0,750.3 1201.4,750.6 1207.8,749.2 1214.2,748.0 1220.6,746.6 1227.0,744.9 1233.4,743.6 1239.8,743.8 1246.2,741.9 1252.6,740.3 1259.0,738.3 1265.4,735.7 1271.8,732.9 1278.2,733.0 1284.6,733.3 1291.0,736.1 1297.4,740.2 1303.8,744.7 1310.2,746.7 1316.6,747.7 1323.0,752.9 1329.4,759.4 1335.8,770.3 1342.2,782.5 1348.6,792.9 1355.0,797.4 1361.4,801.3 1367.8,804.7 1374.2,809.7 1380.6,811.4 1387.0,809.5 1393.4,805.6 1399.8,800.1 1406.2,793.6 1412.6,785.4 1419.0,780.1 1425.4,773.7 1431.8,768.9 1438.2,763.5 1444.6,758.8 1451.0,755.0 1457.4,751.6 1463.8,748.9 1470.2,746.1 1476.6,743.5 1483.0,741.9 1489.4,739.9 1495.8,740.1 1502.2,741.6 1508.6,741.0 1515.0,740.8 1521.4,742.6 1527.8,741.9 1534.2,741.3 1540.6,741.4 1547.0,743.6 1553.4,744.3 1559.8,743.0 1566.2,740.7 1572.6,737.0 1579.0,733.7 1585.4,730.7 1591.8,727.1 1598.2,725.0 1604.6,723.2 1611.0,719.7 1617.4,717.9 1623.8,716.5 1630.2,715.6 1636.6,712.6 1643.0,709.0 1649.4,706.5 1655.8,703.6 1662.2,698.9 1668.6,696.1 1675.0,697.0 1681.4,698.3 1687.8,699.7 1694.2,702.2 1700.6,702.5 1707.0,703.7 1713.4,704.3 1719.8,704.4 1726.2,704.6 1732.6,706.4 1739.0,706.9 1745.4,706.2 1751.8,705.5 1758.2,705.1 1764.6,703.5 1771.0,702.4 1777.4,702.4 1783.8,704.1 1790.2,705.4 1796.6,705.8 1803.0,709.7 1809.4,713.0 1815.8,718.8 1822.2,719.8 1828.6,720.3 1835.0,720.8 1841.4,721.0"/>
</g>
<text x="7" y="696.6" font-family="Liberation Sans, sans-serif" font-size="10" fill="#dde0ea">MACD(12,26,1) 2.668 2.668</text>
<text x="1878.7" y="835.2" font-family="Liberation Sans, sans-serif" font-size="10" fill="#dde0ea">100.00</text>
<text x="1878.7" y="854.9" font-family="Liberation Sans, sans-serif" font-size="10" fill="#dde0ea">80.00</text>
<text x="1878.7" y="933.0" font-family="Liberation Sans, sans-serif" font-size="10" fill="#dde0ea">20.00</text>
<text x="1878.7" y="953.2" font-family="Liberation Sans, sans-serif" font-size="10" fill="#dde0ea">0.00</text>
<rect x="1875" y="851" width="3" height="1" fill="#c4c8dc"/><rect x="1875" y="929" width="3" height="1" fill="#c4c8dc"/><rect x="1875" y="955" width="4" height="1" fill="#c4c8dc"/>
<g clip-path="url(#cs)">
<line x1="4" y1="851.3" x2="1875" y2="851.3" stroke="#b8bcd0" stroke-width="1" stroke-dasharray="2.6,2.2"/>
<line x1="4" y1="929.5" x2="1875" y2="929.5" stroke="#b8bcd0" stroke-width="1" stroke-dasharray="2.6,2.2"/>
<polyline fill="none" stroke="#7ec8ec" stroke-width="1.4" stroke-linejoin="round" points="4.6,883.7 11.0,875.5 17.4,872.7 23.8,868.0 30.2,858.4 36.6,840.7 43.0,834.8 49.4,837.7 55.8,835.5 62.2,835.3 68.6,829.6 75.0,831.2 81.4,834.1 87.8,839.3 94.2,845.2 100.6,845.7 107.0,853.7 113.4,857.9 119.8,874.2 126.2,887.1 132.6,899.2 139.0,895.6 145.4,873.9 151.8,861.3 158.2,866.0 164.6,880.4 171.0,894.3 177.4,896.7 183.8,890.2 190.2,870.4 196.6,850.2 203.0,843.1 209.4,850.2 215.8,874.5 222.2,901.6 228.6,912.0 235.0,904.6 241.4,871.7 247.8,850.1 254.2,833.5 260.6,838.6 267.0,837.6 273.4,836.8 279.8,838.9 286.2,844.2 292.6,846.7 299.0,842.0 305.4,838.0 311.8,837.4 318.2,839.5 324.6,843.4 331.0,857.4 337.4,870.9 343.8,884.0 350.2,876.2 356.6,868.3 363.0,855.6 369.4,868.1 375.8,890.7 382.2,922.6 388.6,917.9 395.0,900.5 401.4,887.7 407.8,890.8 414.2,912.4 420.6,932.4 427.0,941.2 433.4,931.5 439.8,927.3 446.2,915.3 452.6,918.1 459.0,896.3 465.4,882.9 471.8,867.8 478.2,866.5 484.6,867.2 491.0,862.8 497.4,855.7 503.8,843.0 510.2,831.9 516.6,835.3 523.0,844.3 529.4,849.8 535.8,847.2 542.2,836.2 548.6,829.4 555.0,827.8 561.4,832.3 567.8,834.5 574.2,834.0 580.6,831.9 587.0,836.5 593.4,837.7 599.8,835.7 606.2,829.8 612.6,827.5 619.0,831.0 625.4,831.6 631.8,838.3 638.2,855.9 644.6,871.9 651.0,875.7 657.4,871.9 663.8,872.2 670.2,881.4 676.6,867.7 683.0,853.5 689.4,849.9 695.8,847.4 702.2,846.1 708.6,834.7 715.0,834.9 721.4,834.2 727.8,835.1 734.2,843.3 740.6,850.3 747.0,856.8 753.4,864.4 759.8,865.9 766.2,858.2 772.6,849.2 779.0,851.7 785.4,868.6 791.8,876.1 798.2,884.9 804.6,891.4 811.0,905.6 817.4,899.5 823.8,888.5 830.2,874.7 836.6,869.3 843.0,864.5 849.4,847.5 855.8,843.3 862.2,852.5 868.6,867.5 875.0,883.2 881.4,904.3 887.8,928.8 894.2,944.2 900.6,949.1 907.0,948.8 913.4,947.6 919.8,944.5 926.2,945.7 932.6,947.7 939.0,942.8 945.4,931.9 951.8,920.3 958.2,915.1 964.6,911.8 971.0,912.1 977.4,906.4 983.8,901.1 990.2,895.4 996.6,892.5 1003.0,887.0 1009.4,876.2 1015.8,862.1 1022.2,844.8 1028.6,832.8 1035.0,826.6 1041.4,833.8 1047.8,840.8 1054.2,847.0 1060.6,846.4 1067.0,852.4 1073.4,874.6 1079.8,901.6 1086.2,923.1 1092.6,918.5 1099.0,917.6 1105.4,912.1 1111.8,909.2 1118.2,915.0 1124.6,919.8 1131.0,934.8 1137.4,937.8 1143.8,939.9 1150.2,936.4 1156.6,933.3 1163.0,925.9 1169.4,922.1 1175.8,912.1 1182.2,911.1 1188.6,914.6 1195.0,919.3 1201.4,924.3 1207.8,914.9 1214.2,912.0 1220.6,902.8 1227.0,898.7 1233.4,894.8 1239.8,899.3 1246.2,895.9 1252.6,891.7 1259.0,878.3 1265.4,870.0 1271.8,858.0 1278.2,860.7 1284.6,868.8 1291.0,894.1 1297.4,916.7 1303.8,940.1 1310.2,941.1 1316.6,932.0 1323.0,933.1 1329.4,942.9 1335.8,948.3 1342.2,947.7 1348.6,948.4 1355.0,943.6 1361.4,939.8 1367.8,936.2 1374.2,939.7 1380.6,939.8 1387.0,934.6 1393.4,927.2 1399.8,919.2 1406.2,911.0 1412.6,900.9 1419.0,892.9 1425.4,885.7 1431.8,883.0 1438.2,878.2 1444.6,875.5 1451.0,869.3 1457.4,857.2 1463.8,844.2 1470.2,831.9 1476.6,831.2 1483.0,831.4 1489.4,830.2 1495.8,834.4 1502.2,841.6 1508.6,847.0 1515.0,850.3 1521.4,857.6 1527.8,866.4 1534.2,875.6 1540.6,873.4 1547.0,901.9 1553.4,914.4 1559.8,907.6 1566.2,873.7 1572.6,846.8 1579.0,834.3 1585.4,832.8 1591.8,830.3 1598.2,831.3 1604.6,830.1 1611.0,829.9 1617.4,832.3 1623.8,834.6 1630.2,837.8 1636.6,832.9 1643.0,828.9 1649.4,830.3 1655.8,833.2 1662.2,832.6 1668.6,831.1 1675.0,836.3 1681.4,845.3 1687.8,853.2 1694.2,858.6 1700.6,858.1 1707.0,858.5 1713.4,853.2 1719.8,850.7 1726.2,845.5 1732.6,846.5 1739.0,847.2 1745.4,843.6 1751.8,833.7 1758.2,831.4 1764.6,830.5 1771.0,831.2 1777.4,832.8 1783.8,844.2 1790.2,851.7 1796.6,851.3 1803.0,858.9 1809.4,869.0 1815.8,897.3 1822.2,895.5 1828.6,893.5 1835.0,874.6 1841.4,871.7"/>
<polyline fill="none" stroke="#f01818" stroke-width="1.5" stroke-linejoin="round" points="4.6,897.2 11.0,885.9 17.4,877.3 23.8,872.1 30.2,866.4 36.6,855.7 43.0,844.6 49.4,837.7 55.8,836.0 62.2,836.2 68.6,833.5 75.0,832.1 81.4,831.6 87.8,834.9 94.2,839.5 100.6,843.4 107.0,848.2 113.4,852.4 119.8,861.9 126.2,873.1 132.6,886.8 139.0,894.0 145.4,889.5 151.8,876.9 158.2,867.1 164.6,869.2 171.0,880.2 177.4,890.5 183.8,893.7 190.2,885.8 196.6,870.3 203.0,854.6 209.4,847.8 215.8,855.9 222.2,875.4 228.6,896.0 235.0,906.1 241.4,896.1 247.8,875.5 254.2,851.8 260.6,840.8 267.0,836.6 273.4,837.7 279.8,837.8 286.2,840.0 292.6,843.2 299.0,844.3 305.4,842.2 311.8,839.1 318.2,838.3 324.6,840.1 331.0,846.8 337.4,857.3 343.8,870.8 350.2,877.0 356.6,876.2 363.0,866.7 369.4,864.0 375.8,871.5 382.2,893.8 388.6,910.4 395.0,913.6 401.4,902.0 407.8,893.0 414.2,897.0 420.6,911.8 427.0,928.6 433.4,935.0 439.8,933.3 446.2,924.7 452.6,920.2 459.0,909.9 465.4,899.1 471.8,882.3 478.2,872.4 484.6,867.2 491.0,865.5 497.4,861.9 503.8,853.8 510.2,843.5 516.6,836.7 523.0,837.1 529.4,843.1 535.8,847.1 542.2,844.4 548.6,837.6 555.0,831.1 561.4,829.9 567.8,831.5 574.2,833.6 580.6,833.5 587.0,834.1 593.4,835.4 599.8,836.6 606.2,834.4 612.6,831.0 619.0,829.4 625.4,830.0 631.8,833.6 638.2,841.9 644.6,855.4 651.0,867.9 657.4,873.2 663.8,873.3 670.2,875.2 676.6,873.8 683.0,867.5 689.4,857.0 695.8,850.3 702.2,847.8 708.6,842.7 715.0,838.6 721.4,834.6 727.8,834.7 734.2,837.5 740.6,842.9 747.0,850.1 753.4,857.1 759.8,862.4 766.2,862.8 772.6,857.8 779.0,853.0 785.4,856.5 791.8,865.5 798.2,876.5 804.6,884.1 811.0,894.0 817.4,898.8 823.8,897.9 830.2,887.5 836.6,877.5 843.0,869.5 849.4,860.4 855.8,851.7 862.2,847.8 868.6,854.5 875.0,867.7 881.4,885.0 887.8,905.4 894.2,925.8 900.6,940.7 907.0,947.4 913.4,948.5 919.8,947.0 926.2,945.9 932.6,946.0 939.0,945.4 945.4,940.8 951.8,931.7 958.2,922.4 964.6,915.7 971.0,913.0 977.4,910.1 983.8,906.5 990.2,901.0 996.6,896.3 1003.0,891.6 1009.4,885.2 1015.8,875.1 1022.2,861.0 1028.6,846.6 1035.0,834.7 1041.4,831.0 1047.8,833.7 1054.2,840.5 1060.6,844.7 1067.0,848.6 1073.4,857.8 1079.8,876.2 1086.2,899.8 1092.6,914.4 1099.0,919.7 1105.4,916.1 1111.8,913.0 1118.2,912.1 1124.6,914.7 1131.0,923.2 1137.4,930.8 1143.8,937.5 1150.2,938.0 1156.6,936.6 1163.0,931.9 1169.4,927.1 1175.8,920.0 1182.2,915.1 1188.6,912.6 1195.0,915.0 1201.4,919.4 1207.8,919.5 1214.2,917.1 1220.6,909.9 1227.0,904.5 1233.4,898.8 1239.8,897.6 1246.2,896.7 1252.6,895.6 1259.0,888.6 1265.4,880.0 1271.8,868.8 1278.2,862.9 1284.6,862.5 1291.0,874.5 1297.4,893.2 1303.8,917.0 1310.2,932.6 1316.6,937.7 1323.0,935.4 1329.4,936.0 1335.8,941.4 1342.2,946.3 1348.6,948.2 1355.0,946.6 1361.4,943.9 1367.8,939.9 1374.2,938.6 1380.6,938.6 1387.0,938.0 1393.4,933.9 1399.8,927.0 1406.2,919.1 1412.6,910.4 1419.0,901.6 1425.4,893.2 1431.8,887.2 1438.2,882.3 1444.6,878.9 1451.0,874.4 1457.4,867.4 1463.8,856.9 1470.2,844.4 1476.6,835.7 1483.0,831.5 1489.4,830.9 1495.8,832.0 1502.2,835.4 1508.6,841.0 1515.0,846.3 1521.4,851.7 1527.8,858.1 1534.2,866.5 1540.6,871.8 1547.0,883.6 1553.4,896.5 1559.8,908.0 1566.2,898.6 1572.6,876.1 1579.0,851.6 1585.4,838.0 1591.8,832.5 1598.2,831.5 1604.6,830.6 1611.0,830.4 1617.4,830.8 1623.8,832.2 1630.2,834.9 1636.6,835.1 1643.0,833.2 1649.4,830.7 1655.8,830.8 1662.2,832.0 1668.6,832.3 1675.0,833.3 1681.4,837.6 1687.8,844.9 1694.2,852.4 1700.6,856.6 1707.0,858.4 1713.4,856.6 1719.8,854.2 1726.2,849.8 1732.6,847.6 1739.0,846.4 1745.4,845.8 1751.8,841.5 1758.2,836.2 1764.6,831.9 1771.0,831.1 1777.4,831.5 1783.8,836.1 1790.2,842.9 1796.6,849.1 1803.0,854.0 1809.4,859.7 1815.8,875.0 1822.2,887.3 1828.6,895.4 1835.0,887.9 1841.4,879.9"/>
<rect x="5" y="826" width="123" height="14" fill="#10205a"/>
</g>
<text x="7" y="838.6" font-family="Liberation Sans, sans-serif" font-size="10.35" fill="#dde0ea">Stoch(20,3,3) 63.36 59.46</text>
<path d="M5,950 L5,955 L10,955 Z" fill="#e8e8f0"/>
<rect x="4.1" y="955" width="1" height="3.5" fill="#c4c8dc"/>
<text x="4.6" y="966.8" font-family="Liberation Sans, sans-serif" font-size="9.6" fill="#dde0ea">13 Mar 2016</text>
<rect x="106.5" y="955" width="1" height="3.5" fill="#c4c8dc"/>
<text x="107.0" y="966.8" font-family="Liberation Sans, sans-serif" font-size="9.6" fill="#dde0ea">3 Jul 2016</text>
<rect x="208.9" y="955" width="1" height="3.5" fill="#c4c8dc"/>
<text x="209.4" y="966.8" font-family="Liberation Sans, sans-serif" font-size="9.6" fill="#dde0ea">23 Oct 2016</text>
<rect x="311.3" y="955" width="1" height="3.5" fill="#c4c8dc"/>
<text x="311.8" y="966.8" font-family="Liberation Sans, sans-serif" font-size="9.6" fill="#dde0ea">12 Feb 2017</text>
<rect x="413.7" y="955" width="1" height="3.5" fill="#c4c8dc"/>
<text x="414.2" y="966.8" font-family="Liberation Sans, sans-serif" font-size="9.6" fill="#dde0ea">4 Jun 2017</text>
<rect x="516.1" y="955" width="1" height="3.5" fill="#c4c8dc"/>
<text x="516.6" y="966.8" font-family="Liberation Sans, sans-serif" font-size="9.6" fill="#dde0ea">24 Sep 2017</text>
<rect x="618.5" y="955" width="1" height="3.5" fill="#c4c8dc"/>
<text x="619.0" y="966.8" font-family="Liberation Sans, sans-serif" font-size="9.6" fill="#dde0ea">14 Jan 2018</text>
<rect x="720.9" y="955" width="1" height="3.5" fill="#c4c8dc"/>
<text x="721.4" y="966.8" font-family="Liberation Sans, sans-serif" font-size="9.6" fill="#dde0ea">6 May 2018</text>
<rect x="823.3" y="955" width="1" height="3.5" fill="#c4c8dc"/>
<text x="823.8" y="966.8" font-family="Liberation Sans, sans-serif" font-size="9.6" fill="#dde0ea">26 Aug 2018</text>
<rect x="925.7" y="955" width="1" height="3.5" fill="#c4c8dc"/>
<text x="926.2" y="966.8" font-family="Liberation Sans, sans-serif" font-size="9.6" fill="#dde0ea">16 Dec 2018</text>
<rect x="1028.1" y="955" width="1" height="3.5" fill="#c4c8dc"/>
<text x="1028.6" y="966.8" font-family="Liberation Sans, sans-serif" font-size="9.6" fill="#dde0ea">7 Apr 2019</text>
<rect x="1130.5" y="955" width="1" height="3.5" fill="#c4c8dc"/>
<text x="1131.0" y="966.8" font-family="Liberation Sans, sans-serif" font-size="9.6" fill="#dde0ea">28 Jul 2019</text>
<rect x="1232.9" y="955" width="1" height="3.5" fill="#c4c8dc"/>
<text x="1233.4" y="966.8" font-family="Liberation Sans, sans-serif" font-size="9.6" fill="#dde0ea">17 Nov 2019</text>
<rect x="1335.3" y="955" width="1" height="3.5" fill="#c4c8dc"/>
<text x="1335.8" y="966.8" font-family="Liberation Sans, sans-serif" font-size="9.6" fill="#dde0ea">8 Mar 2020</text>
<rect x="1437.7" y="955" width="1" height="3.5" fill="#c4c8dc"/>
<text x="1438.2" y="966.8" font-family="Liberation Sans, sans-serif" font-size="9.6" fill="#dde0ea">28 Jun 2020</text>
<rect x="1540.1" y="955" width="1" height="3.5" fill="#c4c8dc"/>
<text x="1540.6" y="966.8" font-family="Liberation Sans, sans-serif" font-size="9.6" fill="#dde0ea">18 Oct 2020</text>
<rect x="1642.5" y="955" width="1" height="3.5" fill="#c4c8dc"/>
<text x="1643.0" y="966.8" font-family="Liberation Sans, sans-serif" font-size="9.6" fill="#dde0ea">7 Feb 2021</text>
<rect x="1744.9" y="955" width="1" height="3.5" fill="#c4c8dc"/>
<text x="1745.4" y="966.8" font-family="Liberation Sans, sans-serif" font-size="9.6" fill="#dde0ea">30 May 2021</text>
</svg></body></html>
